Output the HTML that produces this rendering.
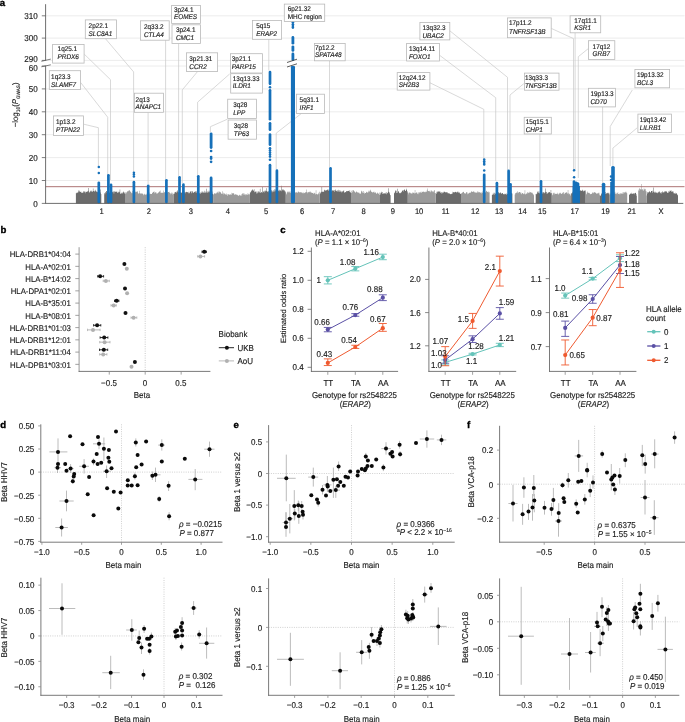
<!DOCTYPE html>
<html><head><meta charset="utf-8"><title>Figure</title>
<style>
html,body{margin:0;padding:0;background:#fff;width:685px;height:722px;overflow:hidden;}
svg{display:block;font-family:"Liberation Sans",sans-serif;text-rendering:geometricPrecision;will-change:transform;}
text{stroke:#1a1a1a;stroke-width:0.14px;}
</style></head><body>
<svg width="685" height="722" viewBox="0 0 685 722">
<rect width="685" height="722" fill="#fff"/>
<text x="-0.3" y="5.8" font-size="9.6" font-weight="bold" fill="#000" style="stroke:#000;stroke-width:0.35px">a</text>
<line x1="45.6" y1="180.5" x2="684.5" y2="180.5" stroke="#e7e7e7" stroke-width="0.8" />
<line x1="45.6" y1="157.6" x2="684.5" y2="157.6" stroke="#e7e7e7" stroke-width="0.8" />
<line x1="45.6" y1="134.7" x2="684.5" y2="134.7" stroke="#e7e7e7" stroke-width="0.8" />
<line x1="45.6" y1="111.8" x2="684.5" y2="111.8" stroke="#e7e7e7" stroke-width="0.8" />
<line x1="45.6" y1="88.9" x2="684.5" y2="88.9" stroke="#e7e7e7" stroke-width="0.8" />
<line x1="45.6" y1="66" x2="684.5" y2="66" stroke="#e7e7e7" stroke-width="0.8" />
<line x1="45.6" y1="60.4" x2="684.5" y2="60.4" stroke="#e7e7e7" stroke-width="0.8" />
<line x1="45.6" y1="38.1" x2="684.5" y2="38.1" stroke="#e7e7e7" stroke-width="0.8" />
<line x1="45.6" y1="15.8" x2="684.5" y2="15.8" stroke="#e7e7e7" stroke-width="0.8" />
<path d="M75.9 192.68h0.5V203.4h-0.5zM76.4 193.21h0.5V203.4h-0.5zM76.9 192.48h0.5V203.4h-0.5zM77.4 192.79h0.5V203.4h-0.5zM77.9 192.35h0.5V203.4h-0.5zM78.4 190.51h0.5V203.4h-0.5zM78.9 190.53h0.5V203.4h-0.5zM79.4 191.57h0.5V203.4h-0.5zM79.9 191.91h0.5V203.4h-0.5zM80.4 191.65h0.5V203.4h-0.5zM80.9 191.82h0.5V203.4h-0.5zM81.4 192.93h0.5V203.4h-0.5zM81.9 192.73h0.5V203.4h-0.5zM82.4 192.75h0.5V203.4h-0.5zM82.9 192.62h0.5V203.4h-0.5zM83.4 191.25h0.5V203.4h-0.5zM83.9 191.21h0.5V203.4h-0.5zM84.4 191.7h0.5V203.4h-0.5zM84.9 193.14h0.5V203.4h-0.5zM85.4 191.73h0.5V203.4h-0.5zM85.9 191.63h0.5V203.4h-0.5zM86.4 192h0.5V203.4h-0.5zM86.9 191.48h0.5V203.4h-0.5zM87.4 191.44h0.5V203.4h-0.5zM87.9 190.66h0.5V203.4h-0.5zM88.4 187.98h0.5V203.4h-0.5zM88.9 192.54h0.5V203.4h-0.5zM89.4 192.21h0.5V203.4h-0.5zM89.9 190.78h0.5V203.4h-0.5zM90.4 191.47h0.5V203.4h-0.5zM90.9 190.48h0.5V203.4h-0.5zM91.4 191.6h0.5V203.4h-0.5zM91.9 191.56h0.5V203.4h-0.5zM92.4 191.66h0.5V203.4h-0.5zM92.9 188.53h0.5V203.4h-0.5zM93.4 191.02h0.5V203.4h-0.5zM93.9 190.93h0.5V203.4h-0.5zM94.4 191.7h0.5V203.4h-0.5zM94.9 189.74h0.5V203.4h-0.5zM95.4 190.85h0.5V203.4h-0.5zM95.9 191.42h0.5V203.4h-0.5zM96.4 191.53h0.5V203.4h-0.5zM96.9 192.32h0.5V203.4h-0.5zM97.4 191.97h0.5V203.4h-0.5zM97.9 191.05h0.5V203.4h-0.5zM98.4 191.84h0.5V203.4h-0.5zM98.9 191.16h0.5V203.4h-0.5zM99.4 191.92h0.5V203.4h-0.5zM99.9 192.57h0.5V203.4h-0.5zM100.4 189.5h0.5V203.4h-0.5zM100.9 193.91h0.4V203.4h-0.4zM104.2 192.93h0.5V203.4h-0.5zM104.7 194.19h0.5V203.4h-0.5zM105.2 192.08h0.5V203.4h-0.5zM105.7 192.69h0.5V203.4h-0.5zM106.2 191.01h0.5V203.4h-0.5zM106.7 191.04h0.5V203.4h-0.5zM107.2 191.94h0.5V203.4h-0.5zM107.7 193.43h0.5V203.4h-0.5zM108.2 192.28h0.5V203.4h-0.5zM108.7 191.8h0.5V203.4h-0.5zM109.2 192.49h0.5V203.4h-0.5zM109.7 193.1h0.5V203.4h-0.5zM110.2 191.51h0.5V203.4h-0.5zM110.7 192.02h0.5V203.4h-0.5zM111.2 192.41h0.5V203.4h-0.5zM111.7 191.91h0.5V203.4h-0.5zM112.2 192.13h0.5V203.4h-0.5zM112.7 191.42h0.5V203.4h-0.5zM113.2 191.55h0.5V203.4h-0.5zM113.7 193.56h0.5V203.4h-0.5zM114.2 191.71h0.5V203.4h-0.5zM114.7 191.01h0.5V203.4h-0.5zM115.2 192.05h0.5V203.4h-0.5zM115.7 191.66h0.5V203.4h-0.5zM116.2 191.68h0.5V203.4h-0.5zM116.7 191.51h0.5V203.4h-0.5zM117.2 192.85h0.5V203.4h-0.5zM117.7 192.81h0.5V203.4h-0.5zM118.2 191.82h0.5V203.4h-0.5zM118.7 192.51h0.5V203.4h-0.5zM119.2 191.87h0.5V203.4h-0.5zM119.7 189.58h0.5V203.4h-0.5zM120.2 193.98h0.5V203.4h-0.5zM120.7 193.31h0.5V203.4h-0.5zM121.2 193.5h0.5V203.4h-0.5zM121.7 192.45h0.5V203.4h-0.5zM122.2 193.45h0.5V203.4h-0.5zM122.7 192.6h0.5V203.4h-0.5zM123.2 191.48h0.5V203.4h-0.5zM123.7 192.19h0.5V203.4h-0.5zM124.2 193.47h0.5V203.4h-0.5zM124.7 192.48h0.3V203.4h-0.3zM173.4 193.79h0.5V203.4h-0.5zM173.9 193.96h0.5V203.4h-0.5zM174.4 192.48h0.5V203.4h-0.5zM174.9 192.3h0.5V203.4h-0.5zM175.4 191.9h0.5V203.4h-0.5zM175.9 191.51h0.5V203.4h-0.5zM176.4 192.67h0.5V203.4h-0.5zM176.9 191.57h0.5V203.4h-0.5zM177.4 190.15h0.5V203.4h-0.5zM177.9 192.2h0.5V203.4h-0.5zM178.4 192.58h0.5V203.4h-0.5zM178.9 191.85h0.5V203.4h-0.5zM179.4 191.92h0.5V203.4h-0.5zM179.9 191.97h0.5V203.4h-0.5zM180.4 192.63h0.5V203.4h-0.5zM180.9 192.53h0.5V203.4h-0.5zM181.4 192.74h0.5V203.4h-0.5zM181.9 192.6h0.5V203.4h-0.5zM182.4 191.2h0.5V203.4h-0.5zM182.9 193.37h0.5V203.4h-0.5zM183.4 192.04h0.5V203.4h-0.5zM183.9 192.71h0.5V203.4h-0.5zM184.4 191.41h0.5V203.4h-0.5zM184.9 193.19h0.5V203.4h-0.5zM185.4 191.97h0.5V203.4h-0.5zM185.9 191.8h0.5V203.4h-0.5zM186.4 192.04h0.5V203.4h-0.5zM186.9 192.4h0.5V203.4h-0.5zM187.4 192.11h0.5V203.4h-0.5zM187.9 191.69h0.5V203.4h-0.5zM188.4 193.24h0.5V203.4h-0.5zM188.9 192.49h0.5V203.4h-0.5zM189.4 193.15h0.5V203.4h-0.5zM189.9 191.23h0.5V203.4h-0.5zM190.4 191.83h0.5V203.4h-0.5zM190.9 191.09h0.5V203.4h-0.5zM191.4 193.22h0.5V203.4h-0.5zM191.9 192.21h0.5V203.4h-0.5zM192.4 191h0.5V203.4h-0.5zM192.9 192.68h0.5V203.4h-0.5zM193.4 192.77h0.5V203.4h-0.5zM193.9 191.89h0.5V203.4h-0.5zM194.4 191.81h0.5V203.4h-0.5zM194.9 192.29h0.5V203.4h-0.5zM195.4 191h0.5V203.4h-0.5zM195.9 192.82h0.5V203.4h-0.5zM196.4 191.15h0.5V203.4h-0.5zM196.9 192.76h0.5V203.4h-0.5zM197.4 193.45h0.5V203.4h-0.5zM197.9 191.79h0.5V203.4h-0.5zM198.4 191.32h0.5V203.4h-0.5zM198.9 193.15h0.5V203.4h-0.5zM199.4 193.2h0.5V203.4h-0.5zM199.9 192.61h0.5V203.4h-0.5zM200.4 193.69h0.5V203.4h-0.5zM200.9 191.85h0.5V203.4h-0.5zM201.4 192.89h0.5V203.4h-0.5zM201.9 191.28h0.5V203.4h-0.5zM202.4 192.45h0.5V203.4h-0.5zM202.9 192.59h0.5V203.4h-0.5zM203.4 192.53h0.5V203.4h-0.5zM203.9 190.71h0.5V203.4h-0.5zM204.4 192.66h0.5V203.4h-0.5zM204.9 191.5h0.5V203.4h-0.5zM205.4 192.64h0.5V203.4h-0.5zM205.9 192.53h0.5V203.4h-0.5zM206.4 188.78h0.5V203.4h-0.5zM206.9 191.52h0.5V203.4h-0.5zM207.4 192.83h0.5V203.4h-0.5zM207.9 190.87h0.5V203.4h-0.5zM208.4 192.21h0.5V203.4h-0.5zM208.9 192.28h0.5V203.4h-0.5zM209.4 190.73h0.5V203.4h-0.5zM209.9 191.67h0.5V203.4h-0.5zM210.4 190.9h0.5V203.4h-0.5zM210.9 191.28h0.5V203.4h-0.5zM211.4 193.21h0.5V203.4h-0.5zM211.9 191.42h0.5V203.4h-0.5zM212.4 193.76h0.5V203.4h-0.5zM212.9 193.69h0.2V203.4h-0.2zM249.9 192.5h0.5V203.4h-0.5zM250.4 192.24h0.5V203.4h-0.5zM250.9 191.31h0.5V203.4h-0.5zM251.4 190.44h0.5V203.4h-0.5zM251.9 189.95h0.5V203.4h-0.5zM252.4 189.24h0.5V203.4h-0.5zM252.9 190.89h0.5V203.4h-0.5zM253.4 190.29h0.5V203.4h-0.5zM253.9 189.22h0.5V203.4h-0.5zM254.4 192.31h0.5V203.4h-0.5zM254.9 191.57h0.5V203.4h-0.5zM255.4 191.75h0.5V203.4h-0.5zM255.9 191.42h0.5V203.4h-0.5zM256.4 193.45h0.5V203.4h-0.5zM256.9 191.59h0.5V203.4h-0.5zM257.4 193.36h0.5V203.4h-0.5zM257.9 192.54h0.5V203.4h-0.5zM258.4 191.33h0.5V203.4h-0.5zM258.9 191.59h0.5V203.4h-0.5zM259.4 192.52h0.5V203.4h-0.5zM259.9 188.79h0.5V203.4h-0.5zM260.4 192.93h0.5V203.4h-0.5zM260.9 192.01h0.5V203.4h-0.5zM261.4 192.33h0.5V203.4h-0.5zM261.9 192.76h0.5V203.4h-0.5zM262.4 186.91h0.5V203.4h-0.5zM262.9 191.3h0.5V203.4h-0.5zM263.4 191.82h0.5V203.4h-0.5zM263.9 192.46h0.5V203.4h-0.5zM264.4 190.83h0.5V203.4h-0.5zM264.9 191.48h0.5V203.4h-0.5zM265.4 190.46h0.5V203.4h-0.5zM265.9 190.99h0.5V203.4h-0.5zM266.4 188.22h0.5V203.4h-0.5zM266.9 191.28h0.5V203.4h-0.5zM267.4 191.86h0.5V203.4h-0.5zM267.9 192.18h0.5V203.4h-0.5zM268.4 191.08h0.5V203.4h-0.5zM268.9 191.03h0.5V203.4h-0.5zM269.4 190.03h0.5V203.4h-0.5zM269.9 190.39h0.5V203.4h-0.5zM270.4 190.59h0.5V203.4h-0.5zM270.9 191.16h0.5V203.4h-0.5zM271.4 189.95h0.5V203.4h-0.5zM271.9 192.17h0.5V203.4h-0.5zM272.4 190.71h0.5V203.4h-0.5zM272.9 191.63h0.5V203.4h-0.5zM273.4 190.23h0.5V203.4h-0.5zM273.9 191.38h0.5V203.4h-0.5zM274.4 189.16h0.5V203.4h-0.5zM274.9 191.2h0.5V203.4h-0.5zM275.4 189.43h0.5V203.4h-0.5zM275.9 189.5h0.5V203.4h-0.5zM276.4 191.04h0.5V203.4h-0.5zM276.9 190.91h0.5V203.4h-0.5zM277.4 191.53h0.5V203.4h-0.5zM277.9 191.08h0.5V203.4h-0.5zM278.4 190.33h0.5V203.4h-0.5zM278.9 191.2h0.5V203.4h-0.5zM279.4 189.76h0.5V203.4h-0.5zM279.9 190.06h0.5V203.4h-0.5zM280.4 190.64h0.5V203.4h-0.5zM280.9 191.2h0.5V203.4h-0.5zM281.4 185.77h0.5V203.4h-0.5zM281.9 189.36h0.5V203.4h-0.5zM282.4 190.33h0.5V203.4h-0.5zM282.9 189.37h0.5V203.4h-0.5zM283.4 190.18h0.5V203.4h-0.5zM283.9 190.71h0.5V203.4h-0.5zM284.4 190.29h0.5V203.4h-0.5zM284.9 192.25h0.5V203.4h-0.5zM285.4 191.26h0.4V203.4h-0.4zM319.6 191.82h0.5V203.4h-0.5zM320.1 193.4h0.5V203.4h-0.5zM320.6 192.4h0.5V203.4h-0.5zM321.1 191.87h0.5V203.4h-0.5zM321.6 186.9h0.5V203.4h-0.5zM322.1 191.69h0.5V203.4h-0.5zM322.6 191.72h0.5V203.4h-0.5zM323.1 191.87h0.5V203.4h-0.5zM323.6 191.85h0.5V203.4h-0.5zM324.1 189.83h0.5V203.4h-0.5zM324.6 190.24h0.5V203.4h-0.5zM325.1 190.87h0.5V203.4h-0.5zM325.6 190.18h0.5V203.4h-0.5zM326.1 190.1h0.5V203.4h-0.5zM326.6 190.43h0.5V203.4h-0.5zM327.1 189.87h0.5V203.4h-0.5zM327.6 189.57h0.5V203.4h-0.5zM328.1 190.77h0.5V203.4h-0.5zM328.6 189.55h0.5V203.4h-0.5zM329.1 190.48h0.5V203.4h-0.5zM329.6 189.79h0.5V203.4h-0.5zM330.1 190.13h0.5V203.4h-0.5zM330.6 191.51h0.5V203.4h-0.5zM331.1 191.75h0.5V203.4h-0.5zM331.6 190.69h0.5V203.4h-0.5zM332.1 190.39h0.5V203.4h-0.5zM332.6 190.13h0.5V203.4h-0.5zM333.1 190.98h0.5V203.4h-0.5zM333.6 189.93h0.5V203.4h-0.5zM334.1 191.79h0.5V203.4h-0.5zM334.6 190.12h0.5V203.4h-0.5zM335.1 189.57h0.5V203.4h-0.5zM335.6 190.87h0.5V203.4h-0.5zM336.1 190.83h0.5V203.4h-0.5zM336.6 191.2h0.5V203.4h-0.5zM337.1 191.58h0.5V203.4h-0.5zM337.6 189.88h0.5V203.4h-0.5zM338.1 191.5h0.5V203.4h-0.5zM338.6 189.84h0.5V203.4h-0.5zM339.1 191.77h0.5V203.4h-0.5zM339.6 190.13h0.5V203.4h-0.5zM340.1 191.86h0.5V203.4h-0.5zM340.6 190.75h0.5V203.4h-0.5zM341.1 191.55h0.5V203.4h-0.5zM341.6 192.39h0.5V203.4h-0.5zM342.1 191.02h0.5V203.4h-0.5zM342.6 192.08h0.5V203.4h-0.5zM343.1 191.11h0.5V203.4h-0.5zM343.6 190.34h0.5V203.4h-0.5zM344.1 192.79h0.5V203.4h-0.5zM344.6 192.33h0.5V203.4h-0.5zM345.1 191.92h0.5V203.4h-0.5zM345.6 192.16h0.5V203.4h-0.5zM346.1 191.32h0.5V203.4h-0.5zM346.6 190.95h0.5V203.4h-0.5zM347.1 191.14h0.5V203.4h-0.5zM347.6 190.94h0.5V203.4h-0.5zM348.1 191.1h0.5V203.4h-0.5zM348.6 190.72h0.5V203.4h-0.5zM349.1 191.7h0.5V203.4h-0.5zM349.6 190.2h0.5V203.4h-0.5zM350.1 192.62h0.5V203.4h-0.5zM350.6 192.23h0.4V203.4h-0.4zM380 194.45h0.5V203.4h-0.5zM380.5 192.77h0.5V203.4h-0.5zM381 191.66h0.5V203.4h-0.5zM381.5 192.67h0.5V203.4h-0.5zM382 192.09h0.5V203.4h-0.5zM382.5 194.09h0.5V203.4h-0.5zM383 193.65h0.5V203.4h-0.5zM383.5 193.14h0.5V203.4h-0.5zM384 193.56h0.5V203.4h-0.5zM384.5 193.29h0.5V203.4h-0.5zM385 192.84h0.5V203.4h-0.5zM385.5 193.86h0.5V203.4h-0.5zM386 192.36h0.5V203.4h-0.5zM386.5 194.16h0.5V203.4h-0.5zM387 192.86h0.5V203.4h-0.5zM387.5 193.3h0.5V203.4h-0.5zM388 188.24h0.5V203.4h-0.5zM388.5 191.8h0.5V203.4h-0.5zM389 192.18h0.5V203.4h-0.5zM389.5 193.45h0.5V203.4h-0.5zM390 194.97h0.5V203.4h-0.5zM390.5 195.72h0.1V203.4h-0.1zM394 193.14h0.5V203.4h-0.5zM394.5 192.4h0.5V203.4h-0.5zM395 190.26h0.5V203.4h-0.5zM395.5 191.16h0.5V203.4h-0.5zM396 190.78h0.5V203.4h-0.5zM396.5 192.9h0.5V203.4h-0.5zM397 192.73h0.5V203.4h-0.5zM397.5 188.73h0.5V203.4h-0.5zM398 191.48h0.5V203.4h-0.5zM398.5 191.19h0.5V203.4h-0.5zM399 193.2h0.5V203.4h-0.5zM399.5 192.86h0.5V203.4h-0.5zM400 193.24h0.5V203.4h-0.5zM400.5 192.85h0.5V203.4h-0.5zM401 192.56h0.5V203.4h-0.5zM401.5 191.67h0.5V203.4h-0.5zM402 191.08h0.5V203.4h-0.5zM402.5 190.16h0.5V203.4h-0.5zM403 191.39h0.5V203.4h-0.5zM403.5 189.98h0.5V203.4h-0.5zM404 189.64h0.5V203.4h-0.5zM404.5 189.47h0.5V203.4h-0.5zM405 190.89h0.5V203.4h-0.5zM405.5 190.86h0.5V203.4h-0.5zM406 188.82h0.5V203.4h-0.5zM406.5 190.05h0.5V203.4h-0.5zM407 191.28h0.5V203.4h-0.5zM407.5 192.56h0.3V203.4h-0.3zM435.6 193.35h0.5V203.4h-0.5zM436.1 193.87h0.5V203.4h-0.5zM436.6 191.67h0.5V203.4h-0.5zM437.1 192.2h0.5V203.4h-0.5zM437.6 191.37h0.5V203.4h-0.5zM438.1 191.62h0.5V203.4h-0.5zM438.6 191.53h0.5V203.4h-0.5zM439.1 191.71h0.5V203.4h-0.5zM439.6 191.36h0.5V203.4h-0.5zM440.1 192.98h0.5V203.4h-0.5zM440.6 191.73h0.5V203.4h-0.5zM441.1 193.41h0.5V203.4h-0.5zM441.6 192.12h0.5V203.4h-0.5zM442.1 193.35h0.5V203.4h-0.5zM442.6 192.26h0.5V203.4h-0.5zM443.1 192.69h0.5V203.4h-0.5zM443.6 191.87h0.5V203.4h-0.5zM444.1 191.85h0.5V203.4h-0.5zM444.6 191.67h0.5V203.4h-0.5zM445.1 191.89h0.5V203.4h-0.5zM445.6 192.67h0.5V203.4h-0.5zM446.1 191.92h0.5V203.4h-0.5zM446.6 192.48h0.5V203.4h-0.5zM447.1 192.31h0.5V203.4h-0.5zM447.6 193.27h0.5V203.4h-0.5zM448.1 193.5h0.5V203.4h-0.5zM448.6 192.9h0.5V203.4h-0.5zM449.1 193.18h0.5V203.4h-0.5zM449.6 194.12h0.5V203.4h-0.5zM450.1 193.97h0.5V203.4h-0.5zM450.6 194.14h0.5V203.4h-0.5zM451.1 193.69h0.5V203.4h-0.5zM451.6 193.94h0.5V203.4h-0.5zM452.1 193.49h0.5V203.4h-0.5zM452.6 191.72h0.5V203.4h-0.5zM453.1 192.02h0.5V203.4h-0.5zM453.6 192.6h0.5V203.4h-0.5zM454.1 192.55h0.5V203.4h-0.5zM454.6 191.94h0.5V203.4h-0.5zM455.1 191.76h0.5V203.4h-0.5zM455.6 191.98h0.5V203.4h-0.5zM456.1 192.59h0.5V203.4h-0.5zM456.6 192.25h0.5V203.4h-0.5zM457.1 191.57h0.5V203.4h-0.5zM457.6 192.32h0.5V203.4h-0.5zM458.1 191.69h0.5V203.4h-0.5zM458.6 193.04h0.5V203.4h-0.5zM459.1 192.36h0.5V203.4h-0.5zM459.6 193.17h0.5V203.4h-0.5zM460.1 194.05h0.5V203.4h-0.5zM460.6 193.7h0.4V203.4h-0.4zM491.9 195h0.5V203.4h-0.5zM492.4 194.61h0.5V203.4h-0.5zM492.9 192.68h0.5V203.4h-0.5zM493.4 194.2h0.5V203.4h-0.5zM493.9 194.83h0.5V203.4h-0.5zM494.4 192.82h0.5V203.4h-0.5zM494.9 193.27h0.5V203.4h-0.5zM495.4 193.99h0.5V203.4h-0.5zM495.9 192.79h0.5V203.4h-0.5zM496.4 194.19h0.5V203.4h-0.5zM496.9 193.99h0.5V203.4h-0.5zM497.4 194.42h0.5V203.4h-0.5zM497.9 192.69h0.5V203.4h-0.5zM498.4 192.08h0.5V203.4h-0.5zM498.9 193.62h0.5V203.4h-0.5zM499.4 193.03h0.5V203.4h-0.5zM499.9 192.2h0.5V203.4h-0.5zM500.4 192.71h0.5V203.4h-0.5zM500.9 193.53h0.5V203.4h-0.5zM501.4 193.79h0.5V203.4h-0.5zM501.9 192.9h0.5V203.4h-0.5zM502.4 192.89h0.5V203.4h-0.5zM502.9 194.07h0.5V203.4h-0.5zM503.4 194.14h0.5V203.4h-0.5zM503.9 194.4h0.5V203.4h-0.5zM504.4 193.81h0.5V203.4h-0.5zM504.9 193.88h0.5V203.4h-0.5zM505.4 193.79h0.5V203.4h-0.5zM505.9 194.9h0.5V203.4h-0.5zM506.4 193.5h0.5V203.4h-0.5zM506.9 194.11h0.5V203.4h-0.5zM507.4 193.9h0.5V203.4h-0.5zM507.9 193.85h0.5V203.4h-0.5zM508.4 192.53h0.5V203.4h-0.5zM508.9 193.72h0.5V203.4h-0.5zM509.4 193.94h0.5V203.4h-0.5zM509.9 193.64h0.5V203.4h-0.5zM510.4 192.49h0.5V203.4h-0.5zM510.9 192.77h0.5V203.4h-0.5zM511.4 193.21h0.5V203.4h-0.5zM511.9 193.53h0.5V203.4h-0.5zM535.7 194h0.5V203.4h-0.5zM536.2 194.34h0.5V203.4h-0.5zM536.7 193.41h0.5V203.4h-0.5zM537.2 191.47h0.5V203.4h-0.5zM537.7 192.35h0.5V203.4h-0.5zM538.2 192.69h0.5V203.4h-0.5zM538.7 191.1h0.5V203.4h-0.5zM539.2 192.68h0.5V203.4h-0.5zM539.7 193.8h0.5V203.4h-0.5zM540.2 192.49h0.5V203.4h-0.5zM540.7 191.6h0.5V203.4h-0.5zM541.2 192.34h0.5V203.4h-0.5zM541.7 193.88h0.5V203.4h-0.5zM542.2 192.3h0.5V203.4h-0.5zM542.7 193.22h0.5V203.4h-0.5zM543.2 192.07h0.5V203.4h-0.5zM543.7 192.54h0.5V203.4h-0.5zM544.2 193.25h0.5V203.4h-0.5zM544.7 192.5h0.5V203.4h-0.5zM545.2 188.44h0.5V203.4h-0.5zM545.7 191.67h0.5V203.4h-0.5zM546.2 192.09h0.5V203.4h-0.5zM546.7 193.68h0.5V203.4h-0.5zM547.2 193.53h0.5V203.4h-0.5zM547.7 192.68h0.5V203.4h-0.5zM548.2 192.38h0.5V203.4h-0.5zM548.7 192.37h0.5V203.4h-0.5zM549.2 192.1h0.5V203.4h-0.5zM549.7 192.28h0.5V203.4h-0.5zM550.2 193.34h0.5V203.4h-0.5zM550.7 190.04h0.5V203.4h-0.5zM551.2 193.09h0.5V203.4h-0.5zM551.7 193.73h0.1V203.4h-0.1zM571.1 193.05h0.5V203.4h-0.5zM571.6 193.74h0.5V203.4h-0.5zM572.1 191.68h0.5V203.4h-0.5zM572.6 192.65h0.5V203.4h-0.5zM573.1 191.41h0.5V203.4h-0.5zM573.6 190.34h0.5V203.4h-0.5zM574.1 191.34h0.5V203.4h-0.5zM574.6 190.27h0.5V203.4h-0.5zM575.1 191.58h0.5V203.4h-0.5zM575.6 191.93h0.5V203.4h-0.5zM576.1 191.03h0.5V203.4h-0.5zM576.6 191.24h0.5V203.4h-0.5zM577.1 190.43h0.5V203.4h-0.5zM577.6 191.69h0.5V203.4h-0.5zM578.1 190.69h0.5V203.4h-0.5zM578.6 186.36h0.5V203.4h-0.5zM579.1 190.86h0.5V203.4h-0.5zM579.6 190.98h0.5V203.4h-0.5zM580.1 190.49h0.5V203.4h-0.5zM580.6 190.37h0.5V203.4h-0.5zM581.1 190.67h0.5V203.4h-0.5zM581.6 190.9h0.5V203.4h-0.5zM582.1 189.78h0.5V203.4h-0.5zM582.6 190.41h0.5V203.4h-0.5zM583.1 191.53h0.5V203.4h-0.5zM583.6 190.77h0.5V203.4h-0.5zM584.1 191.08h0.5V203.4h-0.5zM584.6 190.36h0.5V203.4h-0.5zM585.1 190.57h0.5V203.4h-0.5zM585.6 192.17h0.1V203.4h-0.1zM600 195.44h0.5V203.4h-0.5zM600.5 195.79h0.5V203.4h-0.5zM601 194.37h0.5V203.4h-0.5zM601.5 193.23h0.5V203.4h-0.5zM602 193.14h0.5V203.4h-0.5zM602.5 191.8h0.5V203.4h-0.5zM603 193.15h0.5V203.4h-0.5zM603.5 192.28h0.5V203.4h-0.5zM604 193.88h0.5V203.4h-0.5zM604.5 192.97h0.5V203.4h-0.5zM605 194.06h0.5V203.4h-0.5zM605.5 192.12h0.5V203.4h-0.5zM606 193.59h0.5V203.4h-0.5zM606.5 193.17h0.5V203.4h-0.5zM607 192.73h0.5V203.4h-0.5zM607.5 193.2h0.5V203.4h-0.5zM608 193.44h0.5V203.4h-0.5zM608.5 192.67h0.5V203.4h-0.5zM609 194.49h0.5V203.4h-0.5zM609.5 193.79h0.2V203.4h-0.2zM629 194.28h0.5V203.4h-0.5zM629.5 194.89h0.5V203.4h-0.5zM630 193.15h0.5V203.4h-0.5zM630.5 193.89h0.5V203.4h-0.5zM631 192.65h0.5V203.4h-0.5zM631.5 194.06h0.5V203.4h-0.5zM632 193.7h0.5V203.4h-0.5zM632.5 193.65h0.5V203.4h-0.5zM633 193.1h0.5V203.4h-0.5zM633.5 193.9h0.5V203.4h-0.5zM634 194.31h0.5V203.4h-0.5zM634.5 193.12h0.5V203.4h-0.5zM635 192.67h0.5V203.4h-0.5zM635.5 193.1h0.5V203.4h-0.5zM636 194.34h0.5V203.4h-0.5zM636.5 196.02h0.3V203.4h-0.3zM646.5 195.43h0.5V203.4h-0.5zM647 193.43h0.5V203.4h-0.5zM647.5 191.96h0.5V203.4h-0.5zM648 192.03h0.5V203.4h-0.5zM648.5 192.78h0.5V203.4h-0.5zM649 191.47h0.5V203.4h-0.5zM649.5 191.38h0.5V203.4h-0.5zM650 192.26h0.5V203.4h-0.5zM650.5 192.38h0.5V203.4h-0.5zM651 191.12h0.5V203.4h-0.5zM651.5 191.12h0.5V203.4h-0.5zM652 190.69h0.5V203.4h-0.5zM652.5 192.63h0.5V203.4h-0.5zM653 191.85h0.5V203.4h-0.5zM653.5 187.49h0.5V203.4h-0.5zM654 192.66h0.5V203.4h-0.5zM654.5 191.8h0.5V203.4h-0.5zM655 192.85h0.5V203.4h-0.5zM655.5 191.72h0.5V203.4h-0.5zM656 192.93h0.5V203.4h-0.5zM656.5 192.24h0.5V203.4h-0.5zM657 192.62h0.5V203.4h-0.5zM657.5 193.36h0.5V203.4h-0.5zM658 192.57h0.5V203.4h-0.5zM658.5 191.73h0.5V203.4h-0.5zM659 192.14h0.5V203.4h-0.5zM659.5 191.19h0.5V203.4h-0.5zM660 192.62h0.5V203.4h-0.5zM660.5 193.17h0.5V203.4h-0.5zM661 191.96h0.5V203.4h-0.5zM661.5 193.62h0.5V203.4h-0.5zM662 192.44h0.5V203.4h-0.5zM662.5 191.28h0.5V203.4h-0.5zM663 192.33h0.5V203.4h-0.5zM663.5 192.46h0.5V203.4h-0.5zM664 192.36h0.5V203.4h-0.5zM664.5 191.15h0.5V203.4h-0.5zM665 191.22h0.5V203.4h-0.5zM665.5 191.55h0.5V203.4h-0.5zM666 191.54h0.5V203.4h-0.5zM666.5 191.38h0.5V203.4h-0.5zM667 192.89h0.5V203.4h-0.5zM667.5 192.55h0.5V203.4h-0.5zM668 192.75h0.5V203.4h-0.5zM668.5 191.35h0.5V203.4h-0.5zM669 191.9h0.5V203.4h-0.5zM669.5 190.65h0.5V203.4h-0.5zM670 191.05h0.5V203.4h-0.5zM670.5 190.61h0.5V203.4h-0.5zM671 192.08h0.5V203.4h-0.5zM671.5 190.54h0.5V203.4h-0.5zM672 191.58h0.5V203.4h-0.5zM672.5 191.55h0.5V203.4h-0.5zM673 193.22h0.5V203.4h-0.5zM673.5 191.52h0.5V203.4h-0.5zM674 193.24h0.5V203.4h-0.5zM674.5 193.56h0.5V203.4h-0.5zM675 194.1h0.5V203.4h-0.5zM675.5 192.77h0.5V203.4h-0.5zM676 193.19h0.5V203.4h-0.5zM676.5 193.4h0.5V203.4h-0.5zM677 194.59h0.5V203.4h-0.5zM677.5 195.15h0.5V203.4h-0.5z" fill="#6b6b6b"/>
<path d="M125 193.79h0.5V203.4h-0.5zM125.5 192.19h0.5V203.4h-0.5zM126 192.07h0.5V203.4h-0.5zM126.5 193.13h0.5V203.4h-0.5zM127 191.17h0.5V203.4h-0.5zM127.5 191.47h0.5V203.4h-0.5zM128 190.5h0.5V203.4h-0.5zM128.5 191.27h0.5V203.4h-0.5zM129 189.95h0.5V203.4h-0.5zM129.5 190.77h0.5V203.4h-0.5zM130 191.56h0.5V203.4h-0.5zM130.5 191.63h0.5V203.4h-0.5zM131 192.62h0.5V203.4h-0.5zM131.5 193.18h0.5V203.4h-0.5zM132 191.04h0.5V203.4h-0.5zM132.5 193.23h0.5V203.4h-0.5zM133 193.3h0.5V203.4h-0.5zM133.5 191.48h0.5V203.4h-0.5zM134 191.66h0.5V203.4h-0.5zM134.5 193.18h0.5V203.4h-0.5zM135 192.32h0.5V203.4h-0.5zM135.5 191.47h0.5V203.4h-0.5zM136 191.48h0.5V203.4h-0.5zM136.5 191.97h0.5V203.4h-0.5zM137 190.98h0.5V203.4h-0.5zM137.5 192.22h0.5V203.4h-0.5zM138 193.39h0.5V203.4h-0.5zM138.5 193.39h0.5V203.4h-0.5zM139 193.16h0.5V203.4h-0.5zM139.5 190.86h0.5V203.4h-0.5zM140 193.06h0.5V203.4h-0.5zM140.5 193.88h0.5V203.4h-0.5zM141 193.53h0.5V203.4h-0.5zM141.5 193.45h0.5V203.4h-0.5zM142 193.69h0.5V203.4h-0.5zM142.5 193.51h0.5V203.4h-0.5zM143 194.2h0.5V203.4h-0.5zM143.5 195.17h0.5V203.4h-0.5zM144 194.6h0.5V203.4h-0.5zM144.5 193.77h0.5V203.4h-0.5zM145 194.68h0.5V203.4h-0.5zM145.5 194.47h0.5V203.4h-0.5zM146 194.87h0.5V203.4h-0.5zM146.5 193.75h0.5V203.4h-0.5zM147 193.73h0.5V203.4h-0.5zM147.5 194.06h0.5V203.4h-0.5zM148 194.4h0.5V203.4h-0.5zM148.5 194.73h0.5V203.4h-0.5zM149 192.56h0.5V203.4h-0.5zM149.5 194.32h0.5V203.4h-0.5zM150 193.86h0.5V203.4h-0.5zM150.5 193.98h0.5V203.4h-0.5zM151 193.95h0.5V203.4h-0.5zM151.5 194.01h0.5V203.4h-0.5zM152 192.4h0.5V203.4h-0.5zM152.5 193.1h0.5V203.4h-0.5zM153 191.68h0.5V203.4h-0.5zM153.5 191.89h0.5V203.4h-0.5zM154 191.51h0.5V203.4h-0.5zM154.5 193.18h0.5V203.4h-0.5zM155 192.14h0.5V203.4h-0.5zM155.5 192.45h0.5V203.4h-0.5zM156 193.75h0.5V203.4h-0.5zM156.5 192.48h0.5V203.4h-0.5zM157 193.23h0.5V203.4h-0.5zM157.5 193.48h0.5V203.4h-0.5zM158 192.99h0.5V203.4h-0.5zM158.5 191.94h0.5V203.4h-0.5zM159 191.61h0.5V203.4h-0.5zM159.5 191.61h0.5V203.4h-0.5zM160 192.8h0.5V203.4h-0.5zM160.5 190.38h0.5V203.4h-0.5zM161 192.41h0.5V203.4h-0.5zM161.5 193.02h0.5V203.4h-0.5zM162 192.71h0.5V203.4h-0.5zM162.5 192.87h0.5V203.4h-0.5zM163 192.83h0.5V203.4h-0.5zM163.5 190.59h0.5V203.4h-0.5zM164 192.44h0.5V203.4h-0.5zM164.5 192h0.5V203.4h-0.5zM165 191.24h0.5V203.4h-0.5zM165.5 191.86h0.5V203.4h-0.5zM166 192.27h0.5V203.4h-0.5zM166.5 189.57h0.5V203.4h-0.5zM167 192.28h0.5V203.4h-0.5zM167.5 192.44h0.5V203.4h-0.5zM168 192.08h0.5V203.4h-0.5zM168.5 192.11h0.5V203.4h-0.5zM169 193.02h0.5V203.4h-0.5zM169.5 191.67h0.5V203.4h-0.5zM170 193h0.5V203.4h-0.5zM170.5 194.13h0.5V203.4h-0.5zM171 192.61h0.5V203.4h-0.5zM171.5 193.69h0.5V203.4h-0.5zM172 192.87h0.5V203.4h-0.5zM172.5 194.56h0.5V203.4h-0.5zM173 194.26h0.4V203.4h-0.4zM213.1 194.75h0.5V203.4h-0.5zM213.6 193.88h0.5V203.4h-0.5zM214.1 193.62h0.5V203.4h-0.5zM214.6 192.91h0.5V203.4h-0.5zM215.1 193.42h0.5V203.4h-0.5zM215.6 193.78h0.5V203.4h-0.5zM216.1 193.33h0.5V203.4h-0.5zM216.6 192.46h0.5V203.4h-0.5zM217.1 191.87h0.5V203.4h-0.5zM217.6 192.66h0.5V203.4h-0.5zM218.1 191.42h0.5V203.4h-0.5zM218.6 193.29h0.5V203.4h-0.5zM219.1 191.87h0.5V203.4h-0.5zM219.6 191.45h0.5V203.4h-0.5zM220.1 191.9h0.5V203.4h-0.5zM220.6 192.69h0.5V203.4h-0.5zM221.1 193.44h0.5V203.4h-0.5zM221.6 193.96h0.5V203.4h-0.5zM222.1 191.16h0.5V203.4h-0.5zM222.6 193.73h0.5V203.4h-0.5zM223.1 192.77h0.5V203.4h-0.5zM223.6 194.62h0.5V203.4h-0.5zM224.1 193.42h0.5V203.4h-0.5zM224.6 193.61h0.5V203.4h-0.5zM225.1 194.58h0.5V203.4h-0.5zM225.6 194.18h0.5V203.4h-0.5zM226.1 193.6h0.5V203.4h-0.5zM226.6 195.05h0.5V203.4h-0.5zM227.1 195.68h0.5V203.4h-0.5zM227.6 194.01h0.5V203.4h-0.5zM228.1 194.29h0.5V203.4h-0.5zM228.6 194.54h0.5V203.4h-0.5zM229.1 195.01h0.5V203.4h-0.5zM229.6 194.23h0.5V203.4h-0.5zM230.1 194.36h0.5V203.4h-0.5zM230.6 194.75h0.5V203.4h-0.5zM231.1 194.81h0.5V203.4h-0.5zM231.6 192.71h0.5V203.4h-0.5zM232.1 193.23h0.5V203.4h-0.5zM232.6 193.4h0.5V203.4h-0.5zM233.1 193.37h0.5V203.4h-0.5zM233.6 193.3h0.5V203.4h-0.5zM234.1 194.87h0.5V203.4h-0.5zM234.6 194.45h0.5V203.4h-0.5zM235.1 193.95h0.5V203.4h-0.5zM235.6 194.69h0.5V203.4h-0.5zM236.1 194.46h0.5V203.4h-0.5zM236.6 194.86h0.5V203.4h-0.5zM237.1 195.24h0.5V203.4h-0.5zM237.6 194.73h0.5V203.4h-0.5zM238.1 196.02h0.5V203.4h-0.5zM238.6 195.51h0.5V203.4h-0.5zM239.1 194.68h0.5V203.4h-0.5zM239.6 195.36h0.5V203.4h-0.5zM240.1 195.4h0.5V203.4h-0.5zM240.6 195.42h0.5V203.4h-0.5zM241.1 194.35h0.5V203.4h-0.5zM241.6 195.66h0.5V203.4h-0.5zM242.1 193.86h0.5V203.4h-0.5zM242.6 193.33h0.5V203.4h-0.5zM243.1 194.61h0.5V203.4h-0.5zM243.6 193h0.5V203.4h-0.5zM244.1 193.64h0.5V203.4h-0.5zM244.6 194.93h0.5V203.4h-0.5zM245.1 194.07h0.5V203.4h-0.5zM245.6 195.23h0.5V203.4h-0.5zM246.1 194.61h0.5V203.4h-0.5zM246.6 194.33h0.5V203.4h-0.5zM247.1 194.93h0.5V203.4h-0.5zM247.6 193.18h0.5V203.4h-0.5zM248.1 194.46h0.5V203.4h-0.5zM248.6 193.78h0.5V203.4h-0.5zM249.1 194.62h0.5V203.4h-0.5zM249.6 194.15h0.3V203.4h-0.3zM285.8 194.81h0.5V203.4h-0.5zM286.3 193.8h0.5V203.4h-0.5zM286.8 192.61h0.5V203.4h-0.5zM287.3 191.54h0.5V203.4h-0.5zM287.8 192.26h0.5V203.4h-0.5zM288.3 191.62h0.5V203.4h-0.5zM288.8 192.79h0.5V203.4h-0.5zM289.3 191.7h0.5V203.4h-0.5zM289.8 191.15h0.5V203.4h-0.5zM290.3 192.7h0.5V203.4h-0.5zM290.8 192.68h0.5V203.4h-0.5zM291.3 192.61h0.5V203.4h-0.5zM291.8 192.98h0.5V203.4h-0.5zM292.3 191.68h0.5V203.4h-0.5zM292.8 192.54h0.5V203.4h-0.5zM293.3 190.67h0.5V203.4h-0.5zM293.8 192.03h0.5V203.4h-0.5zM294.3 192.46h0.5V203.4h-0.5zM294.8 192.58h0.5V203.4h-0.5zM295.3 192.19h0.5V203.4h-0.5zM295.8 192.99h0.5V203.4h-0.5zM296.3 191.88h0.5V203.4h-0.5zM296.8 192.31h0.5V203.4h-0.5zM297.3 193.12h0.5V203.4h-0.5zM297.8 191.63h0.5V203.4h-0.5zM298.3 191.49h0.5V203.4h-0.5zM298.8 192.34h0.5V203.4h-0.5zM299.3 192.56h0.5V203.4h-0.5zM299.8 191.93h0.5V203.4h-0.5zM300.3 192.39h0.5V203.4h-0.5zM300.8 192.05h0.5V203.4h-0.5zM301.3 192.43h0.5V203.4h-0.5zM301.8 192.89h0.5V203.4h-0.5zM302.3 193.24h0.5V203.4h-0.5zM302.8 192.12h0.5V203.4h-0.5zM303.3 193.27h0.5V203.4h-0.5zM303.8 193.16h0.5V203.4h-0.5zM304.3 192.8h0.5V203.4h-0.5zM304.8 192.99h0.5V203.4h-0.5zM305.3 191.98h0.5V203.4h-0.5zM305.8 192.34h0.5V203.4h-0.5zM306.3 189.53h0.5V203.4h-0.5zM306.8 192h0.5V203.4h-0.5zM307.3 193.23h0.5V203.4h-0.5zM307.8 192.17h0.5V203.4h-0.5zM308.3 192.17h0.5V203.4h-0.5zM308.8 191.79h0.5V203.4h-0.5zM309.3 192.31h0.5V203.4h-0.5zM309.8 191.59h0.5V203.4h-0.5zM310.3 191.76h0.5V203.4h-0.5zM310.8 192.89h0.5V203.4h-0.5zM311.3 192.17h0.5V203.4h-0.5zM311.8 192.99h0.5V203.4h-0.5zM312.3 192.92h0.5V203.4h-0.5zM312.8 192.82h0.5V203.4h-0.5zM313.3 193.92h0.5V203.4h-0.5zM313.8 193.28h0.5V203.4h-0.5zM314.3 192.79h0.5V203.4h-0.5zM314.8 193.41h0.5V203.4h-0.5zM315.3 194.49h0.5V203.4h-0.5zM315.8 190.13h0.5V203.4h-0.5zM316.3 193.91h0.5V203.4h-0.5zM316.8 194.28h0.5V203.4h-0.5zM317.3 194.57h0.5V203.4h-0.5zM317.8 194.21h0.5V203.4h-0.5zM318.3 192.81h0.5V203.4h-0.5zM318.8 193.75h0.5V203.4h-0.5zM319.3 194.25h0.3V203.4h-0.3zM351 190.84h0.5V203.4h-0.5zM351.5 192.88h0.5V203.4h-0.5zM352 192.27h0.5V203.4h-0.5zM352.5 190.3h0.5V203.4h-0.5zM353 190.61h0.5V203.4h-0.5zM353.5 190.34h0.5V203.4h-0.5zM354 191.55h0.5V203.4h-0.5zM354.5 191.48h0.5V203.4h-0.5zM355 192.06h0.5V203.4h-0.5zM355.5 192.92h0.5V203.4h-0.5zM356 191.47h0.5V203.4h-0.5zM356.5 191.86h0.5V203.4h-0.5zM357 192.6h0.5V203.4h-0.5zM357.5 192.31h0.5V203.4h-0.5zM358 192.91h0.5V203.4h-0.5zM358.5 192.18h0.5V203.4h-0.5zM359 192.73h0.5V203.4h-0.5zM359.5 193.81h0.5V203.4h-0.5zM360 193.8h0.5V203.4h-0.5zM360.5 193.38h0.5V203.4h-0.5zM361 190.85h0.5V203.4h-0.5zM361.5 191.55h0.5V203.4h-0.5zM362 192.73h0.5V203.4h-0.5zM362.5 191.4h0.5V203.4h-0.5zM363 191.05h0.5V203.4h-0.5zM363.5 193.1h0.5V203.4h-0.5zM364 193.83h0.5V203.4h-0.5zM364.5 192.6h0.5V203.4h-0.5zM365 192.99h0.5V203.4h-0.5zM365.5 192.99h0.5V203.4h-0.5zM366 192.33h0.5V203.4h-0.5zM366.5 191.65h0.5V203.4h-0.5zM367 192.77h0.5V203.4h-0.5zM367.5 192.16h0.5V203.4h-0.5zM368 192.17h0.5V203.4h-0.5zM368.5 190.78h0.5V203.4h-0.5zM369 190.8h0.5V203.4h-0.5zM369.5 191.7h0.5V203.4h-0.5zM370 189.69h0.5V203.4h-0.5zM370.5 190.68h0.5V203.4h-0.5zM371 191.69h0.5V203.4h-0.5zM371.5 191.79h0.5V203.4h-0.5zM372 192.78h0.5V203.4h-0.5zM372.5 192.1h0.5V203.4h-0.5zM373 192.13h0.5V203.4h-0.5zM373.5 191.79h0.5V203.4h-0.5zM374 193.01h0.5V203.4h-0.5zM374.5 191.75h0.5V203.4h-0.5zM375 192.83h0.5V203.4h-0.5zM375.5 192.25h0.5V203.4h-0.5zM376 193.71h0.5V203.4h-0.5zM376.5 193.46h0.5V203.4h-0.5zM377 193.13h0.5V203.4h-0.5zM377.5 192.46h0.5V203.4h-0.5zM378 193.48h0.5V203.4h-0.5zM378.5 193.81h0.5V203.4h-0.5zM379 192.62h0.5V203.4h-0.5zM379.5 195.11h0.5V203.4h-0.5zM407.8 194.38h0.5V203.4h-0.5zM408.3 193.23h0.5V203.4h-0.5zM408.8 192.23h0.5V203.4h-0.5zM409.3 192.72h0.5V203.4h-0.5zM409.8 192.51h0.5V203.4h-0.5zM410.3 193.16h0.5V203.4h-0.5zM410.8 193.36h0.5V203.4h-0.5zM411.3 193.43h0.5V203.4h-0.5zM411.8 193.72h0.5V203.4h-0.5zM412.3 192.41h0.5V203.4h-0.5zM412.8 192.7h0.5V203.4h-0.5zM413.3 192.86h0.5V203.4h-0.5zM413.8 192.71h0.5V203.4h-0.5zM414.3 193.47h0.5V203.4h-0.5zM414.8 190.02h0.5V203.4h-0.5zM415.3 193.15h0.5V203.4h-0.5zM415.8 193.05h0.5V203.4h-0.5zM416.3 192.25h0.5V203.4h-0.5zM416.8 192.46h0.5V203.4h-0.5zM417.3 193.87h0.5V203.4h-0.5zM417.8 194.15h0.5V203.4h-0.5zM418.3 192.36h0.5V203.4h-0.5zM418.8 193.3h0.5V203.4h-0.5zM419.3 192.13h0.5V203.4h-0.5zM419.8 192.33h0.5V203.4h-0.5zM420.3 192.59h0.5V203.4h-0.5zM420.8 191.47h0.5V203.4h-0.5zM421.3 192.98h0.5V203.4h-0.5zM421.8 191.89h0.5V203.4h-0.5zM422.3 192h0.5V203.4h-0.5zM422.8 191.26h0.5V203.4h-0.5zM423.3 191.65h0.5V203.4h-0.5zM423.8 192.04h0.5V203.4h-0.5zM424.3 192.32h0.5V203.4h-0.5zM424.8 191.62h0.5V203.4h-0.5zM425.3 192.37h0.5V203.4h-0.5zM425.8 191.74h0.5V203.4h-0.5zM426.3 191.87h0.5V203.4h-0.5zM426.8 190.25h0.5V203.4h-0.5zM427.3 188.51h0.5V203.4h-0.5zM427.8 191.31h0.5V203.4h-0.5zM428.3 190.99h0.5V203.4h-0.5zM428.8 191.07h0.5V203.4h-0.5zM429.3 191.56h0.5V203.4h-0.5zM429.8 190.54h0.5V203.4h-0.5zM430.3 192.3h0.5V203.4h-0.5zM430.8 191.49h0.5V203.4h-0.5zM431.3 190.31h0.5V203.4h-0.5zM431.8 191.11h0.5V203.4h-0.5zM432.3 191.51h0.5V203.4h-0.5zM432.8 192.31h0.5V203.4h-0.5zM433.3 191.6h0.5V203.4h-0.5zM433.8 190.87h0.5V203.4h-0.5zM434.3 190.01h0.5V203.4h-0.5zM434.8 193.03h0.5V203.4h-0.5zM435.3 193.28h0.3V203.4h-0.3zM461 193.67h0.5V203.4h-0.5zM461.5 193.05h0.5V203.4h-0.5zM462 192.39h0.5V203.4h-0.5zM462.5 192.54h0.5V203.4h-0.5zM463 191.92h0.5V203.4h-0.5zM463.5 191.73h0.5V203.4h-0.5zM464 193.31h0.5V203.4h-0.5zM464.5 193.32h0.5V203.4h-0.5zM465 193.76h0.5V203.4h-0.5zM465.5 193.31h0.5V203.4h-0.5zM466 192.13h0.5V203.4h-0.5zM466.5 192.25h0.5V203.4h-0.5zM467 192.44h0.5V203.4h-0.5zM467.5 194.26h0.5V203.4h-0.5zM468 194.1h0.5V203.4h-0.5zM468.5 192.93h0.5V203.4h-0.5zM469 192.55h0.5V203.4h-0.5zM469.5 193.06h0.5V203.4h-0.5zM470 192.95h0.5V203.4h-0.5zM470.5 192.2h0.5V203.4h-0.5zM471 191.37h0.5V203.4h-0.5zM471.5 191.85h0.5V203.4h-0.5zM472 191.73h0.5V203.4h-0.5zM472.5 191.95h0.5V203.4h-0.5zM473 191.28h0.5V203.4h-0.5zM473.5 191.87h0.5V203.4h-0.5zM474 191.75h0.5V203.4h-0.5zM474.5 192.6h0.5V203.4h-0.5zM475 193h0.5V203.4h-0.5zM475.5 192.05h0.5V203.4h-0.5zM476 192.63h0.5V203.4h-0.5zM476.5 192.51h0.5V203.4h-0.5zM477 192.57h0.5V203.4h-0.5zM477.5 191.37h0.5V203.4h-0.5zM478 192.45h0.5V203.4h-0.5zM478.5 191.78h0.5V203.4h-0.5zM479 192.19h0.5V203.4h-0.5zM479.5 192.18h0.5V203.4h-0.5zM480 192.45h0.5V203.4h-0.5zM480.5 192.7h0.5V203.4h-0.5zM481 192.24h0.5V203.4h-0.5zM481.5 193.41h0.5V203.4h-0.5zM482 193.01h0.5V203.4h-0.5zM482.5 191.55h0.5V203.4h-0.5zM483 191.86h0.5V203.4h-0.5zM483.5 192.72h0.5V203.4h-0.5zM484 191.32h0.5V203.4h-0.5zM484.5 191.98h0.5V203.4h-0.5zM485 192.84h0.5V203.4h-0.5zM485.5 191.97h0.5V203.4h-0.5zM486 190.73h0.5V203.4h-0.5zM486.5 191.23h0.5V203.4h-0.5zM487 191.95h0.5V203.4h-0.5zM487.5 191.67h0.5V203.4h-0.5zM488 191.56h0.5V203.4h-0.5zM488.5 192.54h0.5V203.4h-0.5zM489 192.22h0.5V203.4h-0.5zM489.5 191.59h0.1V203.4h-0.1zM514.7 194.45h0.5V203.4h-0.5zM515.2 193.28h0.5V203.4h-0.5zM515.7 193.11h0.5V203.4h-0.5zM516.2 192.8h0.5V203.4h-0.5zM516.7 192.36h0.5V203.4h-0.5zM517.2 191.26h0.5V203.4h-0.5zM517.7 193.37h0.5V203.4h-0.5zM518.2 192.74h0.5V203.4h-0.5zM518.7 191.95h0.5V203.4h-0.5zM519.2 191.94h0.5V203.4h-0.5zM519.7 191.9h0.5V203.4h-0.5zM520.2 193.36h0.5V203.4h-0.5zM520.7 192.26h0.5V203.4h-0.5zM521.2 194.14h0.5V203.4h-0.5zM521.7 193.5h0.5V203.4h-0.5zM522.2 192.9h0.5V203.4h-0.5zM522.7 192.98h0.5V203.4h-0.5zM523.2 193.95h0.5V203.4h-0.5zM523.7 194.19h0.5V203.4h-0.5zM524.2 193.44h0.5V203.4h-0.5zM524.7 190.35h0.5V203.4h-0.5zM525.2 194.6h0.5V203.4h-0.5zM525.7 194.03h0.5V203.4h-0.5zM526.2 193.38h0.5V203.4h-0.5zM526.7 193.4h0.5V203.4h-0.5zM527.2 191.94h0.5V203.4h-0.5zM527.7 193.22h0.5V203.4h-0.5zM528.2 192.39h0.5V203.4h-0.5zM528.7 193.1h0.5V203.4h-0.5zM529.2 191.75h0.5V203.4h-0.5zM529.7 192.75h0.5V203.4h-0.5zM530.2 192.11h0.5V203.4h-0.5zM530.7 192.21h0.5V203.4h-0.5zM531.2 193.11h0.5V203.4h-0.5zM531.7 192.33h0.5V203.4h-0.5zM532.2 193.12h0.5V203.4h-0.5zM532.7 193.96h0.5V203.4h-0.5zM533.2 194.48h0.5V203.4h-0.5zM533.7 195.24h0.3V203.4h-0.3zM551.8 195.55h0.5V203.4h-0.5zM552.3 194.64h0.5V203.4h-0.5zM552.8 193.18h0.5V203.4h-0.5zM553.3 192.72h0.5V203.4h-0.5zM553.8 194.48h0.5V203.4h-0.5zM554.3 192.73h0.5V203.4h-0.5zM554.8 193.86h0.5V203.4h-0.5zM555.3 193.9h0.5V203.4h-0.5zM555.8 193.4h0.5V203.4h-0.5zM556.3 193.88h0.5V203.4h-0.5zM556.8 193.94h0.5V203.4h-0.5zM557.3 192.67h0.5V203.4h-0.5zM557.8 194.32h0.5V203.4h-0.5zM558.3 194.38h0.5V203.4h-0.5zM558.8 193.21h0.5V203.4h-0.5zM559.3 193.55h0.5V203.4h-0.5zM559.8 192.54h0.5V203.4h-0.5zM560.3 192.97h0.5V203.4h-0.5zM560.8 194.01h0.5V203.4h-0.5zM561.3 193.92h0.5V203.4h-0.5zM561.8 193.18h0.5V203.4h-0.5zM562.3 193.27h0.5V203.4h-0.5zM562.8 192.23h0.5V203.4h-0.5zM563.3 192.36h0.5V203.4h-0.5zM563.8 194.27h0.5V203.4h-0.5zM564.3 193.78h0.5V203.4h-0.5zM564.8 192.62h0.5V203.4h-0.5zM565.3 193.04h0.5V203.4h-0.5zM565.8 192.67h0.5V203.4h-0.5zM566.3 192.12h0.5V203.4h-0.5zM566.8 192.74h0.5V203.4h-0.5zM567.3 193.76h0.5V203.4h-0.5zM567.8 190.05h0.5V203.4h-0.5zM568.3 193.14h0.5V203.4h-0.5zM568.8 194.62h0.5V203.4h-0.5zM569.3 193.75h0.5V203.4h-0.5zM569.8 193.83h0.5V203.4h-0.5zM570.3 195.3h0.5V203.4h-0.5zM570.8 195.97h0.3V203.4h-0.3zM585.7 194.23h0.5V203.4h-0.5zM586.2 194.21h0.5V203.4h-0.5zM586.7 192.6h0.5V203.4h-0.5zM587.2 191.57h0.5V203.4h-0.5zM587.7 192.68h0.5V203.4h-0.5zM588.2 193.07h0.5V203.4h-0.5zM588.7 192.44h0.5V203.4h-0.5zM589.2 192.93h0.5V203.4h-0.5zM589.7 193.68h0.5V203.4h-0.5zM590.2 194.14h0.5V203.4h-0.5zM590.7 194.02h0.5V203.4h-0.5zM591.2 194.1h0.5V203.4h-0.5zM591.7 193.47h0.5V203.4h-0.5zM592.2 192.29h0.5V203.4h-0.5zM592.7 193.09h0.5V203.4h-0.5zM593.2 193.15h0.5V203.4h-0.5zM593.7 191.92h0.5V203.4h-0.5zM594.2 192.5h0.5V203.4h-0.5zM594.7 191.98h0.5V203.4h-0.5zM595.2 192.71h0.5V203.4h-0.5zM595.7 192.92h0.5V203.4h-0.5zM596.2 193.38h0.5V203.4h-0.5zM596.7 194.04h0.5V203.4h-0.5zM597.2 193.14h0.5V203.4h-0.5zM597.7 193.17h0.5V203.4h-0.5zM598.2 193.16h0.5V203.4h-0.5zM598.7 192.42h0.5V203.4h-0.5zM599.2 195.17h0.5V203.4h-0.5zM599.7 193.59h0.3V203.4h-0.3zM609.7 192.81h0.5V203.4h-0.5zM610.2 194.24h0.5V203.4h-0.5zM610.7 192.76h0.5V203.4h-0.5zM611.2 192.09h0.5V203.4h-0.5zM611.7 191.74h0.5V203.4h-0.5zM612.2 191.53h0.5V203.4h-0.5zM612.7 192.71h0.5V203.4h-0.5zM613.2 191.62h0.5V203.4h-0.5zM613.7 193.72h0.5V203.4h-0.5zM614.2 192.59h0.5V203.4h-0.5zM614.7 191.82h0.5V203.4h-0.5zM615.2 193.91h0.5V203.4h-0.5zM615.7 192.74h0.5V203.4h-0.5zM616.2 193.49h0.5V203.4h-0.5zM616.7 194.26h0.5V203.4h-0.5zM617.2 192.98h0.5V203.4h-0.5zM617.7 192.34h0.5V203.4h-0.5zM618.2 194.01h0.5V203.4h-0.5zM618.7 193.89h0.5V203.4h-0.5zM619.2 193.49h0.5V203.4h-0.5zM619.7 194.51h0.5V203.4h-0.5zM620.2 193.17h0.5V203.4h-0.5zM620.7 193.48h0.5V203.4h-0.5zM621.2 193.13h0.5V203.4h-0.5zM621.7 194h0.5V203.4h-0.5zM622.2 192.56h0.5V203.4h-0.5zM622.7 193.91h0.5V203.4h-0.5zM623.2 192.03h0.5V203.4h-0.5zM623.7 193.26h0.5V203.4h-0.5zM624.2 192.15h0.5V203.4h-0.5zM624.7 192.62h0.5V203.4h-0.5zM625.2 192.3h0.5V203.4h-0.5zM625.7 191.53h0.5V203.4h-0.5zM626.2 192.45h0.5V203.4h-0.5zM626.7 193.29h0.5V203.4h-0.5zM638.2 189.73h0.5V203.4h-0.5zM638.7 190.99h0.5V203.4h-0.5zM639.2 188.35h0.5V203.4h-0.5zM639.7 188.84h0.5V203.4h-0.5zM640.2 189.26h0.5V203.4h-0.5zM640.7 189.49h0.5V203.4h-0.5zM641.2 183.91h0.5V203.4h-0.5zM641.7 189.47h0.5V203.4h-0.5zM642.2 189.04h0.5V203.4h-0.5zM642.7 190.17h0.5V203.4h-0.5zM643.2 190.7h0.5V203.4h-0.5zM643.7 188.57h0.5V203.4h-0.5zM644.2 189.6h0.5V203.4h-0.5zM644.7 188.64h0.5V203.4h-0.5zM645.2 189.19h0.5V203.4h-0.5zM645.7 191.36h0.5V203.4h-0.5zM646.2 191.36h0.3V203.4h-0.3z" fill="#9a9a9a"/>
<line x1="45.6" y1="186.68" x2="684.5" y2="186.68" stroke="#a46464" stroke-width="0.9" />
<polyline points="84.3,54.2 110.5,79.7 110.5,180" fill="none" stroke="#c9c9c9" stroke-width="0.7" />
<polyline points="80.4,82.2 107.7,117.2 107.7,175" fill="none" stroke="#c9c9c9" stroke-width="0.7" />
<polyline points="83.7,124.2 98.4,127.7 98.4,166" fill="none" stroke="#c9c9c9" stroke-width="0.7" />
<polyline points="105.4,38.6 133.6,71.9 133.6,172" fill="none" stroke="#c9c9c9" stroke-width="0.7" />
<polyline points="165.6,39.9 165.6,179" fill="none" stroke="#c9c9c9" stroke-width="0.7" />
<polyline points="148.1,112.6 148.1,184" fill="none" stroke="#c9c9c9" stroke-width="0.7" />
<polyline points="178.6,43.3 178.6,176" fill="none" stroke="#c9c9c9" stroke-width="0.7" />
<polyline points="197.6,71.5 182.3,89.9 182.3,183" fill="none" stroke="#c9c9c9" stroke-width="0.7" />
<polyline points="229.6,74 197.6,102.2 197.6,175" fill="none" stroke="#c9c9c9" stroke-width="0.7" />
<polyline points="227.4,119.2 210.4,126.7 210.4,132" fill="none" stroke="#c9c9c9" stroke-width="0.7" />
<polyline points="268.8,39.2 268.8,70.5" fill="none" stroke="#c9c9c9" stroke-width="0.7" />
<polyline points="301.5,113.4 276.2,133.2 276.2,169" fill="none" stroke="#c9c9c9" stroke-width="0.7" />
<polyline points="329.5,60.9 329.5,167" fill="none" stroke="#c9c9c9" stroke-width="0.7" />
<polyline points="449.7,30.7 507.5,77.3 507.5,170" fill="none" stroke="#c9c9c9" stroke-width="0.7" />
<polyline points="439.5,55.2 495.7,97.7 495.7,181" fill="none" stroke="#c9c9c9" stroke-width="0.7" />
<polyline points="430,82.8 483.8,109.3 483.8,159" fill="none" stroke="#c9c9c9" stroke-width="0.7" />
<polyline points="523.8,83.7 510,95 510,182" fill="none" stroke="#c9c9c9" stroke-width="0.7" />
<polyline points="551.3,28.4 573.5,38.6 573.5,172" fill="none" stroke="#c9c9c9" stroke-width="0.7" />
<polyline points="575.1,32.9 575.1,170" fill="none" stroke="#c9c9c9" stroke-width="0.7" />
<polyline points="588.3,48.6 578.3,56.7 578.3,178" fill="none" stroke="#c9c9c9" stroke-width="0.7" />
<polyline points="602.6,106.7 602.6,183" fill="none" stroke="#c9c9c9" stroke-width="0.7" />
<polyline points="632.3,90 610.2,126.5 610.2,166" fill="none" stroke="#c9c9c9" stroke-width="0.7" />
<polyline points="637.2,127.8 612.9,148.1 612.9,166" fill="none" stroke="#c9c9c9" stroke-width="0.7" />
<polyline points="539.9,133.7 539.9,180" fill="none" stroke="#c9c9c9" stroke-width="0.7" />
<rect x="97.45" y="181.5" width="2.7" height="21.9" rx="1.35" fill="#1670b9"/>
<circle cx="98.8" cy="167" r="1.25" fill="#1670b9"/>
<circle cx="98.8" cy="173" r="1.25" fill="#1670b9"/>
<rect x="107.05" y="174" width="2.7" height="29.4" rx="1.35" fill="#1670b9"/>
<rect x="109.65" y="183.5" width="2.7" height="19.9" rx="1.35" fill="#1670b9"/>
<rect x="132.55" y="180.8" width="2.7" height="22.6" rx="1.35" fill="#1670b9"/>
<circle cx="133.9" cy="172.8" r="1.25" fill="#1670b9"/>
<circle cx="133.9" cy="174.6" r="1.25" fill="#1670b9"/>
<circle cx="133.9" cy="176.6" r="1.25" fill="#1670b9"/>
<rect x="146.85" y="184.4" width="2.7" height="19" rx="1.35" fill="#1670b9"/>
<rect x="165.05" y="179" width="2.7" height="24.4" rx="1.35" fill="#1670b9"/>
<rect x="178.15" y="176" width="2.7" height="27.4" rx="1.35" fill="#1670b9"/>
<rect x="182.05" y="183.3" width="2.7" height="20.1" rx="1.35" fill="#1670b9"/>
<rect x="196.95" y="175" width="2.7" height="28.4" rx="1.35" fill="#1670b9"/>
<rect x="209.7" y="176.6" width="2.8" height="26.8" rx="1.4" fill="#1670b9"/>
<rect x="209.7" y="132.4" width="2.8" height="16.6" rx="1.4" fill="#1670b9"/>
<circle cx="211.1" cy="151" r="1.35" fill="#1670b9"/>
<circle cx="211.1" cy="157" r="1.35" fill="#1670b9"/>
<circle cx="211.1" cy="158.6" r="1.35" fill="#1670b9"/>
<circle cx="211.1" cy="161.8" r="1.35" fill="#1670b9"/>
<rect x="268.65" y="70.7" width="2.7" height="14.5" rx="1.35" fill="#1670b9"/>
<circle cx="270" cy="87.2" r="1.3" fill="#1670b9"/>
<rect x="268.65" y="89" width="2.7" height="31.6" rx="1.35" fill="#1670b9"/>
<rect x="268.65" y="122" width="2.7" height="9" rx="1.35" fill="#1670b9"/>
<rect x="268.65" y="133.2" width="2.7" height="12.8" rx="1.35" fill="#1670b9"/>
<circle cx="270" cy="148.2" r="1.3" fill="#1670b9"/>
<circle cx="270" cy="150.4" r="1.3" fill="#1670b9"/>
<circle cx="270" cy="152.6" r="1.3" fill="#1670b9"/>
<circle cx="270" cy="154.6" r="1.3" fill="#1670b9"/>
<circle cx="270" cy="156.6" r="1.3" fill="#1670b9"/>
<rect x="268.65" y="158.6" width="2.7" height="2.4" rx="1.35" fill="#1670b9"/>
<rect x="268.65" y="163.8" width="2.7" height="39.6" rx="1.35" fill="#1670b9"/>
<rect x="275.55" y="169.3" width="2.7" height="34.1" rx="1.35" fill="#1670b9"/>
<circle cx="292.9" cy="22.3" r="1.3" fill="#1670b9"/>
<circle cx="292.9" cy="24.2" r="1.3" fill="#1670b9"/>
<circle cx="292.9" cy="26" r="1.3" fill="#1670b9"/>
<circle cx="292.9" cy="27.6" r="1.3" fill="#1670b9"/>
<rect x="291.5" y="36" width="2.8" height="8.6" rx="1.4" fill="#1670b9"/>
<rect x="291.5" y="45.4" width="2.8" height="6.4" rx="1.4" fill="#1670b9"/>
<rect x="291.5" y="52.6" width="2.8" height="8.4" rx="1.4" fill="#1670b9"/>
<rect x="290.9" y="65.8" width="4.1" height="137.6" rx="1.4" fill="#1670b9"/>
<rect x="289" y="61.2" width="8" height="4.4" fill="#fff"/>
<line x1="287" y1="62.5" x2="297" y2="59.2" stroke="#333" stroke-width="0.8" />
<line x1="287" y1="67" x2="297" y2="63.8" stroke="#333" stroke-width="0.8" />
<rect x="329.15" y="167" width="2.7" height="36.4" rx="1.35" fill="#1670b9"/>
<circle cx="484.2" cy="159.6" r="1.25" fill="#1670b9"/>
<circle cx="484.2" cy="161.3" r="1.25" fill="#1670b9"/>
<circle cx="484.2" cy="163" r="1.25" fill="#1670b9"/>
<circle cx="484.2" cy="164.4" r="1.25" fill="#1670b9"/>
<circle cx="484.2" cy="170.5" r="1.25" fill="#1670b9"/>
<rect x="482.85" y="173.5" width="2.7" height="29.9" rx="1.35" fill="#1670b9"/>
<rect x="495.55" y="181.8" width="2.7" height="21.6" rx="1.35" fill="#1670b9"/>
<rect x="507.25" y="169.6" width="2.7" height="33.8" rx="1.35" fill="#1670b9"/>
<rect x="509.15" y="183" width="2.7" height="20.4" rx="1.35" fill="#1670b9"/>
<rect x="539.65" y="180" width="2.7" height="23.4" rx="1.35" fill="#1670b9"/>
<circle cx="574.1" cy="170.2" r="1.25" fill="#1670b9"/>
<circle cx="574.1" cy="177.2" r="1.25" fill="#1670b9"/>
<rect x="572.65" y="180.2" width="2.7" height="23.2" rx="1.35" fill="#1670b9"/>
<rect x="574.65" y="181.5" width="2.7" height="21.9" rx="1.35" fill="#1670b9"/>
<rect x="576.65" y="182.5" width="2.7" height="20.9" rx="1.35" fill="#1670b9"/>
<rect x="572.7" y="186" width="7.2" height="17.4" fill="#1670b9"/>
<circle cx="577.2" cy="184.5" r="1.25" fill="#1670b9"/>
<circle cx="577.2" cy="183.6" r="1.25" fill="#1670b9"/>
<rect x="601.8" y="182.8" width="3.5" height="20.6" rx="1.5" fill="#1670b9"/>
<rect x="611.2" y="166.1" width="3.6" height="37.3" rx="1.5" fill="#1670b9"/>
<rect x="610.2" y="182" width="2" height="21.4" fill="#1670b9"/>
<circle cx="611" cy="180" r="1.25" fill="#1670b9"/>
<circle cx="611" cy="176.5" r="1.25" fill="#1670b9"/>
<line x1="45.6" y1="4.2" x2="45.6" y2="60.7" stroke="#5e5e5e" stroke-width="0.9" />
<line x1="45.6" y1="65.7" x2="45.6" y2="203.4" stroke="#5e5e5e" stroke-width="0.9" />
<line x1="45.15" y1="203.4" x2="683.3" y2="203.4" stroke="#5e5e5e" stroke-width="0.9" />
<line x1="41.4" y1="61.3" x2="50.8" y2="59.1" stroke="#5e5e5e" stroke-width="0.8" />
<line x1="41.4" y1="66.8" x2="50.8" y2="64.8" stroke="#5e5e5e" stroke-width="0.8" />
<line x1="41.8" y1="203.4" x2="45.6" y2="203.4" stroke="#5e5e5e" stroke-width="0.8" />
<text transform="translate(37.7,206.58) scale(1,1.07)" font-size="8.1" text-anchor="end" fill="#222" >0</text>
<line x1="41.8" y1="180.5" x2="45.6" y2="180.5" stroke="#5e5e5e" stroke-width="0.8" />
<text transform="translate(37.7,183.68) scale(1,1.07)" font-size="8.1" text-anchor="end" fill="#222" >10</text>
<line x1="41.8" y1="157.6" x2="45.6" y2="157.6" stroke="#5e5e5e" stroke-width="0.8" />
<text transform="translate(37.7,160.78) scale(1,1.07)" font-size="8.1" text-anchor="end" fill="#222" >20</text>
<line x1="41.8" y1="134.7" x2="45.6" y2="134.7" stroke="#5e5e5e" stroke-width="0.8" />
<text transform="translate(37.7,137.88) scale(1,1.07)" font-size="8.1" text-anchor="end" fill="#222" >30</text>
<line x1="41.8" y1="111.8" x2="45.6" y2="111.8" stroke="#5e5e5e" stroke-width="0.8" />
<text transform="translate(37.7,114.98) scale(1,1.07)" font-size="8.1" text-anchor="end" fill="#222" >40</text>
<line x1="41.8" y1="88.9" x2="45.6" y2="88.9" stroke="#5e5e5e" stroke-width="0.8" />
<text transform="translate(37.7,92.08) scale(1,1.07)" font-size="8.1" text-anchor="end" fill="#222" >50</text>
<line x1="41.8" y1="66" x2="45.6" y2="66" stroke="#5e5e5e" stroke-width="0.8" />
<text transform="translate(37.7,70.68) scale(1,1.07)" font-size="8.1" text-anchor="end" fill="#222" >60</text>
<line x1="41.8" y1="60.4" x2="45.6" y2="60.4" stroke="#5e5e5e" stroke-width="0.8" />
<text transform="translate(37.7,61.78) scale(1,1.07)" font-size="8.1" text-anchor="end" fill="#222" >290</text>
<line x1="41.8" y1="38.1" x2="45.6" y2="38.1" stroke="#5e5e5e" stroke-width="0.8" />
<text transform="translate(37.7,41.28) scale(1,1.07)" font-size="8.1" text-anchor="end" fill="#222" >300</text>
<line x1="41.8" y1="15.8" x2="45.6" y2="15.8" stroke="#5e5e5e" stroke-width="0.8" />
<text transform="translate(37.7,18.98) scale(1,1.07)" font-size="8.1" text-anchor="end" fill="#222" >310</text>
<text transform="translate(18.3,127.3) rotate(-90) scale(1,1.05)" font-size="7.8" fill="#222">&#8722;log<tspan font-size="5.0" dy="1.8">10</tspan><tspan dy="-1.8">(</tspan><tspan font-style="italic">P</tspan><tspan font-size="4.6" dy="1.9">GWAS</tspan><tspan dy="-1.9">)</tspan></text>
<text transform="translate(101.5,213.7) scale(1,1.07)" font-size="7.6" text-anchor="middle" fill="#222" >1</text>
<text transform="translate(148.9,213.7) scale(1,1.07)" font-size="7.6" text-anchor="middle" fill="#222" >2</text>
<text transform="translate(190.9,213.7) scale(1,1.07)" font-size="7.6" text-anchor="middle" fill="#222" >3</text>
<text transform="translate(227.8,213.7) scale(1,1.07)" font-size="7.6" text-anchor="middle" fill="#222" >4</text>
<text transform="translate(266,213.7) scale(1,1.07)" font-size="7.6" text-anchor="middle" fill="#222" >5</text>
<text transform="translate(302.2,213.7) scale(1,1.07)" font-size="7.6" text-anchor="middle" fill="#222" >6</text>
<text transform="translate(333,213.7) scale(1,1.07)" font-size="7.6" text-anchor="middle" fill="#222" >7</text>
<text transform="translate(363.7,213.7) scale(1,1.07)" font-size="7.6" text-anchor="middle" fill="#222" >8</text>
<text transform="translate(392.9,213.7) scale(1,1.07)" font-size="7.6" text-anchor="middle" fill="#222" >9</text>
<text transform="translate(419.1,213.7) scale(1,1.07)" font-size="7.6" text-anchor="middle" fill="#222" >10</text>
<text transform="translate(445.6,213.7) scale(1,1.07)" font-size="7.6" text-anchor="middle" fill="#222" >11</text>
<text transform="translate(475.3,213.7) scale(1,1.07)" font-size="7.6" text-anchor="middle" fill="#222" >12</text>
<text transform="translate(499.1,213.7) scale(1,1.07)" font-size="7.6" text-anchor="middle" fill="#222" >13</text>
<text transform="translate(522.5,213.7) scale(1,1.07)" font-size="7.6" text-anchor="middle" fill="#222" >14</text>
<text transform="translate(542.3,213.7) scale(1,1.07)" font-size="7.6" text-anchor="middle" fill="#222" >15</text>
<text transform="translate(574.8,213.7) scale(1,1.07)" font-size="7.6" text-anchor="middle" fill="#222" >17</text>
<text transform="translate(605.5,213.7) scale(1,1.07)" font-size="7.6" text-anchor="middle" fill="#222" >19</text>
<text transform="translate(631.7,213.7) scale(1,1.07)" font-size="7.6" text-anchor="middle" fill="#222" >21</text>
<text transform="translate(661.1,213.7) scale(1,1.07)" font-size="7.6" text-anchor="middle" fill="#222" >X</text>
<rect x="52.6" y="44.4" width="31.5" height="18.7" fill="#fff" stroke="#b9b9b9" stroke-width="0.8"/>
<text transform="translate(57.6,51.2) scale(1,1.07)" font-size="6.4" text-anchor="start" fill="#222" >1q25.1</text>
<text transform="translate(57.6,59.1) scale(1,1.07)" font-size="6.4" text-anchor="start" font-style="italic" fill="#222" >PRDX6</text>
<rect x="49.3" y="70.7" width="31.3" height="18.7" fill="#fff" stroke="#b9b9b9" stroke-width="0.8"/>
<text transform="translate(51.1,78.6) scale(1,1.07)" font-size="6.4" text-anchor="start" fill="#222" >1q23.3</text>
<text transform="translate(51.1,86.5) scale(1,1.07)" font-size="6.4" text-anchor="start" font-style="italic" fill="#222" >SLAMF7</text>
<rect x="53.4" y="115.9" width="30.1" height="19.6" fill="#fff" stroke="#b9b9b9" stroke-width="0.8"/>
<text transform="translate(55.9,123.9) scale(1,1.07)" font-size="6.4" text-anchor="start" fill="#222" >1p13.2</text>
<text transform="translate(55.9,131.5) scale(1,1.07)" font-size="6.4" text-anchor="start" font-style="italic" fill="#222" >PTPN22</text>
<rect x="85.3" y="19.9" width="31.2" height="18.8" fill="#fff" stroke="#b9b9b9" stroke-width="0.8"/>
<text transform="translate(88.6,28.1) scale(1,1.07)" font-size="6.4" text-anchor="start" fill="#222" >2p22.1</text>
<text transform="translate(88.6,36) scale(1,1.07)" font-size="6.4" text-anchor="start" font-style="italic" fill="#222" >SLC8A1</text>
<rect x="140.4" y="20.8" width="28.8" height="19.4" fill="#fff" stroke="#b9b9b9" stroke-width="0.8"/>
<text transform="translate(144,29.1) scale(1,1.07)" font-size="6.4" text-anchor="start" fill="#222" >2q33.2</text>
<text transform="translate(144,36.7) scale(1,1.07)" font-size="6.4" text-anchor="start" font-style="italic" fill="#222" >CTLA4</text>
<rect x="134.4" y="93.2" width="29.1" height="19.1" fill="#fff" stroke="#b9b9b9" stroke-width="0.8"/>
<text transform="translate(135.6,101.5) scale(1,1.07)" font-size="6.4" text-anchor="start" fill="#222" >2q13</text>
<text transform="translate(135.6,109.1) scale(1,1.07)" font-size="6.4" text-anchor="start" font-style="italic" fill="#222" >ANAPC1</text>
<rect x="171.6" y="5.4" width="28.9" height="18" fill="#fff" stroke="#b9b9b9" stroke-width="0.8"/>
<text transform="translate(173.9,11.6) scale(1,1.07)" font-size="6.4" text-anchor="start" fill="#222" >3p24.1</text>
<text transform="translate(173.9,19.4) scale(1,1.07)" font-size="6.4" text-anchor="start" font-style="italic" fill="#222" >EOMES</text>
<rect x="172" y="24.8" width="28.5" height="18.6" fill="#fff" stroke="#b9b9b9" stroke-width="0.8"/>
<text transform="translate(175.9,32.1) scale(1,1.07)" font-size="6.4" text-anchor="start" fill="#222" >3p24.1</text>
<text transform="translate(175.9,39.7) scale(1,1.07)" font-size="6.4" text-anchor="start" font-style="italic" fill="#222" >CMC1</text>
<rect x="186.5" y="52.8" width="31.1" height="18.7" fill="#fff" stroke="#b9b9b9" stroke-width="0.8"/>
<text transform="translate(189.3,60.9) scale(1,1.07)" font-size="6.4" text-anchor="start" fill="#222" >3p21.31</text>
<text transform="translate(189.3,68.9) scale(1,1.07)" font-size="6.4" text-anchor="start" font-style="italic" fill="#222" >CCR2</text>
<rect x="230.4" y="53.7" width="32" height="19.3" fill="#fff" stroke="#b9b9b9" stroke-width="0.8"/>
<text transform="translate(231.8,61.3) scale(1,1.07)" font-size="6.4" text-anchor="start" fill="#222" >3p21.1</text>
<text transform="translate(231.8,69.1) scale(1,1.07)" font-size="6.4" text-anchor="start" font-style="italic" fill="#222" >PARP15</text>
<rect x="230.7" y="73.7" width="31.7" height="19.4" fill="#fff" stroke="#b9b9b9" stroke-width="0.8"/>
<text transform="translate(232.8,80.8) scale(1,1.07)" font-size="6.4" text-anchor="start" fill="#222" >13q13.33</text>
<text transform="translate(232.8,88.3) scale(1,1.07)" font-size="6.4" text-anchor="start" font-style="italic" fill="#222" >ILDR1</text>
<rect x="227.7" y="99.2" width="28.7" height="19.3" fill="#fff" stroke="#b9b9b9" stroke-width="0.8"/>
<text transform="translate(233.2,106.8) scale(1,1.07)" font-size="6.4" text-anchor="start" fill="#222" >3q28</text>
<text transform="translate(233.2,114.6) scale(1,1.07)" font-size="6.4" text-anchor="start" font-style="italic" fill="#222" >LPP</text>
<rect x="228.1" y="120" width="28.4" height="19.2" fill="#fff" stroke="#b9b9b9" stroke-width="0.8"/>
<text transform="translate(233.8,128) scale(1,1.07)" font-size="6.4" text-anchor="start" fill="#222" >3q28</text>
<text transform="translate(233.8,135.6) scale(1,1.07)" font-size="6.4" text-anchor="start" font-style="italic" fill="#222" >TP63</text>
<rect x="252.4" y="20.4" width="29.2" height="18.9" fill="#fff" stroke="#b9b9b9" stroke-width="0.8"/>
<text transform="translate(256.2,28) scale(1,1.07)" font-size="6.4" text-anchor="start" fill="#222" >5q15</text>
<text transform="translate(256.2,35.7) scale(1,1.07)" font-size="6.4" text-anchor="start" font-style="italic" fill="#222" >ERAP2</text>
<rect x="284.3" y="4.1" width="40.4" height="17.4" fill="#fff" stroke="#b9b9b9" stroke-width="0.8"/>
<text transform="translate(287.7,11) scale(1,1.07)" font-size="6.4" text-anchor="start" fill="#222" >6p21.32</text>
<text transform="translate(287.7,18.9) scale(1,1.07)" font-size="6.4" text-anchor="start" fill="#222" >MHC region</text>
<rect x="296.5" y="94.2" width="27.9" height="19.3" fill="#fff" stroke="#b9b9b9" stroke-width="0.8"/>
<text transform="translate(299.6,101.8) scale(1,1.07)" font-size="6.4" text-anchor="start" fill="#222" >5q31.1</text>
<text transform="translate(299.6,109.9) scale(1,1.07)" font-size="6.4" text-anchor="start" font-style="italic" fill="#222" >IRF1</text>
<rect x="314.4" y="43.4" width="30.8" height="17.4" fill="#fff" stroke="#b9b9b9" stroke-width="0.8"/>
<text transform="translate(315,49.8) scale(1,1.07)" font-size="6.4" text-anchor="start" fill="#222" >7p12.2</text>
<text transform="translate(315,57.2) scale(1,1.07)" font-size="6.4" text-anchor="start" font-style="italic" fill="#222" >SPATA48</text>
<rect x="419.9" y="22.5" width="29.9" height="17.4" fill="#fff" stroke="#b9b9b9" stroke-width="0.8"/>
<text transform="translate(422.5,30.2) scale(1,1.07)" font-size="6.4" text-anchor="start" fill="#222" >13q32.3</text>
<text transform="translate(422.5,37.7) scale(1,1.07)" font-size="6.4" text-anchor="start" font-style="italic" fill="#222" >UBAC2</text>
<rect x="406.6" y="43.5" width="32.9" height="17.5" fill="#fff" stroke="#b9b9b9" stroke-width="0.8"/>
<text transform="translate(408.9,51) scale(1,1.07)" font-size="6.4" text-anchor="start" fill="#222" >13q14.11</text>
<text transform="translate(408.9,58.5) scale(1,1.07)" font-size="6.4" text-anchor="start" font-style="italic" fill="#222" >FOXO1</text>
<rect x="397.2" y="72.6" width="32.7" height="17.5" fill="#fff" stroke="#b9b9b9" stroke-width="0.8"/>
<text transform="translate(398.8,79.8) scale(1,1.07)" font-size="6.4" text-anchor="start" fill="#222" >12q24.12</text>
<text transform="translate(398.8,87.2) scale(1,1.07)" font-size="6.4" text-anchor="start" font-style="italic" fill="#222" >SH2B3</text>
<rect x="507.4" y="17.9" width="43.8" height="19.8" fill="#fff" stroke="#b9b9b9" stroke-width="0.8"/>
<text transform="translate(509,25.4) scale(1,1.07)" font-size="6.4" text-anchor="start" fill="#222" >17p11.2</text>
<text transform="translate(509,33.7) scale(1,1.07)" font-size="6.4" text-anchor="start" font-style="italic" fill="#222" >TNFRSF13B</text>
<rect x="570.1" y="15.8" width="30.6" height="17" fill="#fff" stroke="#b9b9b9" stroke-width="0.8"/>
<text transform="translate(574.3,22.5) scale(1,1.07)" font-size="6.4" text-anchor="start" fill="#222" >17q11.1</text>
<text transform="translate(574.3,29.9) scale(1,1.07)" font-size="6.4" text-anchor="start" font-style="italic" fill="#222" >KSR1</text>
<rect x="588.5" y="40.7" width="26.3" height="18.7" fill="#fff" stroke="#b9b9b9" stroke-width="0.8"/>
<text transform="translate(592.6,48.5) scale(1,1.07)" font-size="6.4" text-anchor="start" fill="#222" >17q12</text>
<text transform="translate(592.6,55.9) scale(1,1.07)" font-size="6.4" text-anchor="start" font-style="italic" fill="#222" >GRB7</text>
<rect x="524.5" y="73.1" width="34.5" height="17.1" fill="#fff" stroke="#b9b9b9" stroke-width="0.8"/>
<text transform="translate(524.9,80) scale(1,1.07)" font-size="6.4" text-anchor="start" fill="#222" >13q33.3</text>
<text transform="translate(524.9,88) scale(1,1.07)" font-size="6.4" text-anchor="start" font-style="italic" fill="#222" >TNFSF13B</text>
<rect x="634.9" y="69.4" width="34.7" height="18.4" fill="#fff" stroke="#b9b9b9" stroke-width="0.8"/>
<text transform="translate(637,76.9) scale(1,1.07)" font-size="6.4" text-anchor="start" fill="#222" >19p13.32</text>
<text transform="translate(637,84.8) scale(1,1.07)" font-size="6.4" text-anchor="start" font-style="italic" fill="#222" >BCL3</text>
<rect x="588.5" y="88.3" width="27.1" height="18.6" fill="#fff" stroke="#b9b9b9" stroke-width="0.8"/>
<text transform="translate(590.5,96.2) scale(1,1.07)" font-size="6.4" text-anchor="start" fill="#222" >19p13.3</text>
<text transform="translate(590.5,103.7) scale(1,1.07)" font-size="6.4" text-anchor="start" font-style="italic" fill="#222" >CD70</text>
<rect x="524.2" y="117.3" width="27.1" height="16.7" fill="#fff" stroke="#b9b9b9" stroke-width="0.8"/>
<text transform="translate(525.7,124.3) scale(1,1.07)" font-size="6.4" text-anchor="start" fill="#222" >15q15.1</text>
<text transform="translate(525.7,132) scale(1,1.07)" font-size="6.4" text-anchor="start" font-style="italic" fill="#222" >CHP1</text>
<rect x="637.9" y="114.1" width="33.5" height="18.4" fill="#fff" stroke="#b9b9b9" stroke-width="0.8"/>
<text transform="translate(639.7,121.6) scale(1,1.07)" font-size="6.4" text-anchor="start" fill="#222" >19q13.42</text>
<text transform="translate(639.7,129.5) scale(1,1.07)" font-size="6.4" text-anchor="start" font-style="italic" fill="#222" >LILRB1</text>
<text x="0.5" y="232.7" font-size="9.6" font-weight="bold" fill="#000" style="stroke:#000;stroke-width:0.35px">b</text>
<line x1="145.2" y1="247.2" x2="145.2" y2="371.4" stroke="#bdbdbd" stroke-width="0.8" stroke-dasharray="1,1.3"/>
<line x1="79.1" y1="247.2" x2="79.1" y2="371.85" stroke="#8c8c8c" stroke-width="0.9" />
<line x1="78.65" y1="371.4" x2="210.4" y2="371.4" stroke="#6b6b6b" stroke-width="0.9" />
<line x1="75.3" y1="254.1" x2="79.1" y2="254.1" stroke="#8a8a8a" stroke-width="0.8" />
<text transform="translate(70.8,257.37) scale(1,1.07)" font-size="7.8" text-anchor="end" fill="#222" >HLA-DRB1*04:04</text>
<line x1="197.7" y1="256.4" x2="204.6" y2="256.4" stroke="#b0b0b0" stroke-width="0.9" />
<line x1="197.7" y1="255.2" x2="197.7" y2="257.6" stroke="#b0b0b0" stroke-width="0.8" />
<line x1="204.6" y1="255.2" x2="204.6" y2="257.6" stroke="#b0b0b0" stroke-width="0.8" />
<circle cx="200.4" cy="256.4" r="2" fill="#b0b0b0"/>
<line x1="202" y1="251.8" x2="206.4" y2="251.8" stroke="#111" stroke-width="0.9" />
<line x1="202" y1="250.6" x2="202" y2="253" stroke="#111" stroke-width="0.8" />
<line x1="206.4" y1="250.6" x2="206.4" y2="253" stroke="#111" stroke-width="0.8" />
<circle cx="204.3" cy="251.8" r="2" fill="#111"/>
<line x1="75.3" y1="266.35" x2="79.1" y2="266.35" stroke="#8a8a8a" stroke-width="0.8" />
<text transform="translate(70.8,269.62) scale(1,1.07)" font-size="7.8" text-anchor="end" fill="#222" >HLA-A*02:01</text>
<circle cx="126.8" cy="268.65" r="2" fill="#b0b0b0"/>
<circle cx="124.4" cy="264.05" r="2" fill="#111"/>
<line x1="75.3" y1="278.6" x2="79.1" y2="278.6" stroke="#8a8a8a" stroke-width="0.8" />
<text transform="translate(70.8,281.87) scale(1,1.07)" font-size="7.8" text-anchor="end" fill="#222" >HLA-B*14:02</text>
<line x1="103.2" y1="280.9" x2="109.3" y2="280.9" stroke="#b0b0b0" stroke-width="0.9" />
<line x1="103.2" y1="279.7" x2="103.2" y2="282.1" stroke="#b0b0b0" stroke-width="0.8" />
<line x1="109.3" y1="279.7" x2="109.3" y2="282.1" stroke="#b0b0b0" stroke-width="0.8" />
<circle cx="105.9" cy="280.9" r="2" fill="#b0b0b0"/>
<line x1="97.7" y1="276.3" x2="103.6" y2="276.3" stroke="#111" stroke-width="0.9" />
<line x1="97.7" y1="275.1" x2="97.7" y2="277.5" stroke="#111" stroke-width="0.8" />
<line x1="103.6" y1="275.1" x2="103.6" y2="277.5" stroke="#111" stroke-width="0.8" />
<circle cx="100.1" cy="276.3" r="2" fill="#111"/>
<line x1="75.3" y1="290.85" x2="79.1" y2="290.85" stroke="#8a8a8a" stroke-width="0.8" />
<text transform="translate(70.8,294.12) scale(1,1.07)" font-size="7.8" text-anchor="end" fill="#222" >HLA-DPA1*02:01</text>
<circle cx="127.1" cy="293.15" r="2" fill="#b0b0b0"/>
<circle cx="125" cy="288.55" r="2" fill="#111"/>
<line x1="75.3" y1="303.1" x2="79.1" y2="303.1" stroke="#8a8a8a" stroke-width="0.8" />
<text transform="translate(70.8,306.37) scale(1,1.07)" font-size="7.8" text-anchor="end" fill="#222" >HLA-B*35:01</text>
<line x1="111" y1="305.4" x2="116.3" y2="305.4" stroke="#b0b0b0" stroke-width="0.9" />
<line x1="111" y1="304.2" x2="111" y2="306.6" stroke="#b0b0b0" stroke-width="0.8" />
<line x1="116.3" y1="304.2" x2="116.3" y2="306.6" stroke="#b0b0b0" stroke-width="0.8" />
<circle cx="113.7" cy="305.4" r="2" fill="#b0b0b0"/>
<line x1="114.5" y1="300.8" x2="118.9" y2="300.8" stroke="#111" stroke-width="0.9" />
<line x1="114.5" y1="299.6" x2="114.5" y2="302" stroke="#111" stroke-width="0.8" />
<line x1="118.9" y1="299.6" x2="118.9" y2="302" stroke="#111" stroke-width="0.8" />
<circle cx="116.6" cy="300.8" r="2" fill="#111"/>
<line x1="75.3" y1="315.35" x2="79.1" y2="315.35" stroke="#8a8a8a" stroke-width="0.8" />
<text transform="translate(70.8,318.62) scale(1,1.07)" font-size="7.8" text-anchor="end" fill="#222" >HLA-B*08:01</text>
<line x1="131" y1="317.65" x2="136.8" y2="317.65" stroke="#b0b0b0" stroke-width="0.9" />
<line x1="131" y1="316.45" x2="131" y2="318.85" stroke="#b0b0b0" stroke-width="0.8" />
<line x1="136.8" y1="316.45" x2="136.8" y2="318.85" stroke="#b0b0b0" stroke-width="0.8" />
<circle cx="133.6" cy="317.65" r="2" fill="#b0b0b0"/>
<circle cx="125.5" cy="313.05" r="2" fill="#111"/>
<line x1="75.3" y1="327.6" x2="79.1" y2="327.6" stroke="#8a8a8a" stroke-width="0.8" />
<text transform="translate(70.8,330.87) scale(1,1.07)" font-size="7.8" text-anchor="end" fill="#222" >HLA-DRB1*01:03</text>
<line x1="87.5" y1="329.9" x2="100.1" y2="329.9" stroke="#b0b0b0" stroke-width="0.9" />
<line x1="87.5" y1="328.7" x2="87.5" y2="331.1" stroke="#b0b0b0" stroke-width="0.8" />
<line x1="100.1" y1="328.7" x2="100.1" y2="331.1" stroke="#b0b0b0" stroke-width="0.8" />
<circle cx="93" cy="329.9" r="2" fill="#b0b0b0"/>
<line x1="93.6" y1="325.3" x2="100.8" y2="325.3" stroke="#111" stroke-width="0.9" />
<line x1="93.6" y1="324.1" x2="93.6" y2="326.5" stroke="#111" stroke-width="0.8" />
<line x1="100.8" y1="324.1" x2="100.8" y2="326.5" stroke="#111" stroke-width="0.8" />
<circle cx="97.1" cy="325.3" r="2" fill="#111"/>
<line x1="75.3" y1="339.85" x2="79.1" y2="339.85" stroke="#8a8a8a" stroke-width="0.8" />
<text transform="translate(70.8,343.12) scale(1,1.07)" font-size="7.8" text-anchor="end" fill="#222" >HLA-DRB1*12:01</text>
<line x1="99.7" y1="342.15" x2="110" y2="342.15" stroke="#b0b0b0" stroke-width="0.9" />
<line x1="99.7" y1="340.95" x2="99.7" y2="343.35" stroke="#b0b0b0" stroke-width="0.8" />
<line x1="110" y1="340.95" x2="110" y2="343.35" stroke="#b0b0b0" stroke-width="0.8" />
<circle cx="104.6" cy="342.15" r="2" fill="#b0b0b0"/>
<line x1="100.1" y1="337.55" x2="107.9" y2="337.55" stroke="#111" stroke-width="0.9" />
<line x1="100.1" y1="336.35" x2="100.1" y2="338.75" stroke="#111" stroke-width="0.8" />
<line x1="107.9" y1="336.35" x2="107.9" y2="338.75" stroke="#111" stroke-width="0.8" />
<circle cx="104.2" cy="337.55" r="2" fill="#111"/>
<line x1="75.3" y1="352.1" x2="79.1" y2="352.1" stroke="#8a8a8a" stroke-width="0.8" />
<text transform="translate(70.8,355.37) scale(1,1.07)" font-size="7.8" text-anchor="end" fill="#222" >HLA-DRB1*11:04</text>
<line x1="99.7" y1="354.4" x2="106.9" y2="354.4" stroke="#b0b0b0" stroke-width="0.9" />
<line x1="99.7" y1="353.2" x2="99.7" y2="355.6" stroke="#b0b0b0" stroke-width="0.8" />
<line x1="106.9" y1="353.2" x2="106.9" y2="355.6" stroke="#b0b0b0" stroke-width="0.8" />
<circle cx="103.2" cy="354.4" r="2" fill="#b0b0b0"/>
<line x1="99.5" y1="349.8" x2="107.7" y2="349.8" stroke="#111" stroke-width="0.9" />
<line x1="99.5" y1="348.6" x2="99.5" y2="351" stroke="#111" stroke-width="0.8" />
<line x1="107.7" y1="348.6" x2="107.7" y2="351" stroke="#111" stroke-width="0.8" />
<circle cx="103.8" cy="349.8" r="2" fill="#111"/>
<line x1="75.3" y1="364.35" x2="79.1" y2="364.35" stroke="#8a8a8a" stroke-width="0.8" />
<text transform="translate(70.8,367.62) scale(1,1.07)" font-size="7.8" text-anchor="end" fill="#222" >HLA-DPB1*03:01</text>
<circle cx="131.5" cy="366.65" r="2" fill="#b0b0b0"/>
<circle cx="134.9" cy="362.05" r="2" fill="#111"/>
<line x1="109.25" y1="371.4" x2="109.25" y2="374.6" stroke="#8a8a8a" stroke-width="0.8" />
<text transform="translate(108.95,385.74) scale(1,1.07)" font-size="8.0" text-anchor="middle" fill="#222" >&#8722;0.5</text>
<line x1="145.2" y1="371.4" x2="145.2" y2="374.6" stroke="#8a8a8a" stroke-width="0.8" />
<text transform="translate(144.9,385.74) scale(1,1.07)" font-size="8.0" text-anchor="middle" fill="#222" >0</text>
<line x1="181.15" y1="371.4" x2="181.15" y2="374.6" stroke="#8a8a8a" stroke-width="0.8" />
<text transform="translate(180.85,385.74) scale(1,1.07)" font-size="8.0" text-anchor="middle" fill="#222" >0.5</text>
<text transform="translate(142,398.04) scale(1,1.07)" font-size="8.0" text-anchor="middle" fill="#222" >Beta</text>
<text transform="translate(218.6,337.45) scale(1,1.07)" font-size="8.0" text-anchor="start" fill="#222" >Biobank</text>
<line x1="218.8" y1="347.7" x2="234" y2="347.7" stroke="#111" stroke-width="0.9" />
<circle cx="226.9" cy="347.7" r="2" fill="#111"/>
<text transform="translate(237.5,350.54) scale(1,1.07)" font-size="8.0" text-anchor="start" fill="#222" >UKB</text>
<line x1="218.8" y1="360.9" x2="234" y2="360.9" stroke="#b0b0b0" stroke-width="0.9" />
<circle cx="226.9" cy="360.9" r="2" fill="#b0b0b0"/>
<text transform="translate(237.5,363.74) scale(1,1.07)" font-size="8.0" text-anchor="start" fill="#222" >AoU</text>
<text x="280.2" y="233.3" font-size="9.6" font-weight="bold" fill="#000" style="stroke:#000;stroke-width:0.35px">c</text>
<line x1="311.4" y1="247.5" x2="311.4" y2="371.85" stroke="#6b6b6b" stroke-width="0.9" />
<line x1="310.95" y1="371.4" x2="398.1" y2="371.4" stroke="#6b6b6b" stroke-width="0.9" />
<line x1="307.6" y1="251.3" x2="311.4" y2="251.3" stroke="#6b6b6b" stroke-width="0.8" />
<text transform="translate(303.6,254.34) scale(1,1.07)" font-size="8.0" text-anchor="end" fill="#222" >1.2</text>
<line x1="307.6" y1="280.3" x2="311.4" y2="280.3" stroke="#6b6b6b" stroke-width="0.8" />
<text transform="translate(303.6,283.34) scale(1,1.07)" font-size="8.0" text-anchor="end" fill="#222" >1.0</text>
<line x1="307.6" y1="309.3" x2="311.4" y2="309.3" stroke="#6b6b6b" stroke-width="0.8" />
<text transform="translate(303.6,312.34) scale(1,1.07)" font-size="8.0" text-anchor="end" fill="#222" >0.8</text>
<line x1="307.6" y1="338.3" x2="311.4" y2="338.3" stroke="#6b6b6b" stroke-width="0.8" />
<text transform="translate(303.6,341.34) scale(1,1.07)" font-size="8.0" text-anchor="end" fill="#222" >0.6</text>
<line x1="307.6" y1="367.3" x2="311.4" y2="367.3" stroke="#6b6b6b" stroke-width="0.8" />
<text transform="translate(303.6,370.34) scale(1,1.07)" font-size="8.0" text-anchor="end" fill="#222" >0.4</text>
<line x1="327.8" y1="371.4" x2="327.8" y2="374.8" stroke="#8a8a8a" stroke-width="0.8" />
<text transform="translate(328.3,385.94) scale(1,1.07)" font-size="8.0" text-anchor="middle" fill="#222" >TT</text>
<line x1="355.3" y1="371.4" x2="355.3" y2="374.8" stroke="#8a8a8a" stroke-width="0.8" />
<text transform="translate(355.8,385.94) scale(1,1.07)" font-size="8.0" text-anchor="middle" fill="#222" >TA</text>
<line x1="382.8" y1="371.4" x2="382.8" y2="374.8" stroke="#8a8a8a" stroke-width="0.8" />
<text transform="translate(383.3,385.94) scale(1,1.07)" font-size="8.0" text-anchor="middle" fill="#222" >AA</text>
<polyline points="327.8,280.3 355.3,268.7 382.8,257.1" fill="none" stroke="#64c3b9" stroke-width="1.0" />
<line x1="327.8" y1="283.93" x2="327.8" y2="276.68" stroke="#64c3b9" stroke-width="0.9" />
<line x1="323.8" y1="283.93" x2="331.8" y2="283.93" stroke="#64c3b9" stroke-width="0.9" />
<line x1="323.8" y1="276.68" x2="331.8" y2="276.68" stroke="#64c3b9" stroke-width="0.9" />
<circle cx="327.8" cy="280.3" r="2.1" fill="#64c3b9"/>
<line x1="355.3" y1="270.88" x2="355.3" y2="266.53" stroke="#64c3b9" stroke-width="0.9" />
<line x1="351.3" y1="270.88" x2="359.3" y2="270.88" stroke="#64c3b9" stroke-width="0.9" />
<line x1="351.3" y1="266.53" x2="359.3" y2="266.53" stroke="#64c3b9" stroke-width="0.9" />
<circle cx="355.3" cy="268.7" r="2.1" fill="#64c3b9"/>
<line x1="382.8" y1="259.71" x2="382.8" y2="254.2" stroke="#64c3b9" stroke-width="0.9" />
<line x1="378.8" y1="259.71" x2="386.8" y2="259.71" stroke="#64c3b9" stroke-width="0.9" />
<line x1="378.8" y1="254.2" x2="386.8" y2="254.2" stroke="#64c3b9" stroke-width="0.9" />
<circle cx="382.8" cy="257.1" r="2.1" fill="#64c3b9"/>
<polyline points="327.8,329.6 355.3,315.1 382.8,297.7" fill="none" stroke="#5a50a5" stroke-width="1.0" />
<line x1="327.8" y1="331.77" x2="327.8" y2="327.43" stroke="#5a50a5" stroke-width="0.9" />
<line x1="323.8" y1="331.77" x2="331.8" y2="331.77" stroke="#5a50a5" stroke-width="0.9" />
<line x1="323.8" y1="327.43" x2="331.8" y2="327.43" stroke="#5a50a5" stroke-width="0.9" />
<circle cx="327.8" cy="329.6" r="2.1" fill="#5a50a5"/>
<line x1="355.3" y1="316.26" x2="355.3" y2="313.65" stroke="#5a50a5" stroke-width="0.9" />
<line x1="351.3" y1="316.26" x2="359.3" y2="316.26" stroke="#5a50a5" stroke-width="0.9" />
<line x1="351.3" y1="313.65" x2="359.3" y2="313.65" stroke="#5a50a5" stroke-width="0.9" />
<circle cx="355.3" cy="315.1" r="2.1" fill="#5a50a5"/>
<line x1="382.8" y1="300.6" x2="382.8" y2="294.8" stroke="#5a50a5" stroke-width="0.9" />
<line x1="378.8" y1="300.6" x2="386.8" y2="300.6" stroke="#5a50a5" stroke-width="0.9" />
<line x1="378.8" y1="294.8" x2="386.8" y2="294.8" stroke="#5a50a5" stroke-width="0.9" />
<circle cx="382.8" cy="297.7" r="2.1" fill="#5a50a5"/>
<polyline points="327.8,362.95 355.3,347 382.8,328.15" fill="none" stroke="#ef5a30" stroke-width="1.0" />
<line x1="327.8" y1="365.56" x2="327.8" y2="358.89" stroke="#ef5a30" stroke-width="0.9" />
<line x1="323.8" y1="365.56" x2="331.8" y2="365.56" stroke="#ef5a30" stroke-width="0.9" />
<line x1="323.8" y1="358.89" x2="331.8" y2="358.89" stroke="#ef5a30" stroke-width="0.9" />
<circle cx="327.8" cy="362.95" r="2.1" fill="#ef5a30"/>
<line x1="355.3" y1="348.45" x2="355.3" y2="345.26" stroke="#ef5a30" stroke-width="0.9" />
<line x1="351.3" y1="348.45" x2="359.3" y2="348.45" stroke="#ef5a30" stroke-width="0.9" />
<line x1="351.3" y1="345.26" x2="359.3" y2="345.26" stroke="#ef5a30" stroke-width="0.9" />
<circle cx="355.3" cy="347" r="2.1" fill="#ef5a30"/>
<line x1="382.8" y1="331.34" x2="382.8" y2="323.51" stroke="#ef5a30" stroke-width="0.9" />
<line x1="378.8" y1="331.34" x2="386.8" y2="331.34" stroke="#ef5a30" stroke-width="0.9" />
<line x1="378.8" y1="323.51" x2="386.8" y2="323.51" stroke="#ef5a30" stroke-width="0.9" />
<circle cx="382.8" cy="328.15" r="2.1" fill="#ef5a30"/>
<text transform="translate(318.8,283.44) scale(1,1.07)" font-size="8.0" text-anchor="middle" fill="#222" >1</text>
<text transform="translate(347.6,264.84) scale(1,1.07)" font-size="8.0" text-anchor="middle" fill="#222" >1.08</text>
<text transform="translate(371.2,254.74) scale(1,1.07)" font-size="8.0" text-anchor="middle" fill="#222" >1.16</text>
<text transform="translate(322.1,324.64) scale(1,1.07)" font-size="8.0" text-anchor="middle" fill="#222" >0.66</text>
<text transform="translate(350.3,309.94) scale(1,1.07)" font-size="8.0" text-anchor="middle" fill="#222" >0.76</text>
<text transform="translate(374.8,291.54) scale(1,1.07)" font-size="8.0" text-anchor="middle" fill="#222" >0.88</text>
<text transform="translate(324.3,356.84) scale(1,1.07)" font-size="8.0" text-anchor="middle" fill="#222" >0.43</text>
<text transform="translate(349.1,343.04) scale(1,1.07)" font-size="8.0" text-anchor="middle" fill="#222" >0.54</text>
<text transform="translate(377.9,322.14) scale(1,1.07)" font-size="8.0" text-anchor="middle" fill="#222" >0.67</text>
<text transform="translate(315,235.55) scale(1,1.07)" font-size="7.8" text-anchor="start" fill="#222" >HLA-A*02:01</text>
<text transform="translate(315,245.35) scale(1,1.07)" font-size="7.8" fill="#222">(<tspan font-style="italic">P</tspan> = 1.1 &#215; 10<tspan font-size="5" dy="-3">&#8722;6</tspan><tspan dy="3">)</tspan></text>
<text transform="translate(354.45,398) scale(1,1.07)" font-size="7.9" text-anchor="middle" fill="#222" >Genotype for rs2548225</text>
<text transform="translate(355.25,407.2) scale(1,1.07)" font-size="7.9" text-anchor="middle" fill="#222">(<tspan font-style="italic">ERAP2</tspan>)</text>
<line x1="428.9" y1="247.5" x2="428.9" y2="371.85" stroke="#6b6b6b" stroke-width="0.9" />
<line x1="428.45" y1="371.4" x2="516.2" y2="371.4" stroke="#6b6b6b" stroke-width="0.9" />
<line x1="425.1" y1="279.4" x2="428.9" y2="279.4" stroke="#6b6b6b" stroke-width="0.8" />
<text transform="translate(420.8,282.44) scale(1,1.07)" font-size="8.0" text-anchor="end" fill="#222" >2.0</text>
<line x1="425.1" y1="312.6" x2="428.9" y2="312.6" stroke="#6b6b6b" stroke-width="0.8" />
<text transform="translate(420.8,315.64) scale(1,1.07)" font-size="8.0" text-anchor="end" fill="#222" >1.6</text>
<line x1="425.1" y1="345.8" x2="428.9" y2="345.8" stroke="#6b6b6b" stroke-width="0.8" />
<text transform="translate(420.8,348.84) scale(1,1.07)" font-size="8.0" text-anchor="end" fill="#222" >1.2</text>
<line x1="445.2" y1="371.4" x2="445.2" y2="374.8" stroke="#8a8a8a" stroke-width="0.8" />
<text transform="translate(445.7,385.94) scale(1,1.07)" font-size="8.0" text-anchor="middle" fill="#222" >TT</text>
<line x1="472.6" y1="371.4" x2="472.6" y2="374.8" stroke="#8a8a8a" stroke-width="0.8" />
<text transform="translate(473.1,385.94) scale(1,1.07)" font-size="8.0" text-anchor="middle" fill="#222" >TA</text>
<line x1="499.8" y1="371.4" x2="499.8" y2="374.8" stroke="#8a8a8a" stroke-width="0.8" />
<text transform="translate(500.3,385.94) scale(1,1.07)" font-size="8.0" text-anchor="middle" fill="#222" >AA</text>
<polyline points="445.2,362.4 472.6,354.1 499.8,344.97" fill="none" stroke="#64c3b9" stroke-width="1.0" />
<line x1="445.2" y1="364.89" x2="445.2" y2="359.91" stroke="#64c3b9" stroke-width="0.9" />
<line x1="441.2" y1="364.89" x2="449.2" y2="364.89" stroke="#64c3b9" stroke-width="0.9" />
<line x1="441.2" y1="359.91" x2="449.2" y2="359.91" stroke="#64c3b9" stroke-width="0.9" />
<circle cx="445.2" cy="362.4" r="2.1" fill="#64c3b9"/>
<line x1="472.6" y1="354.93" x2="472.6" y2="353.27" stroke="#64c3b9" stroke-width="0.9" />
<line x1="468.6" y1="354.93" x2="476.6" y2="354.93" stroke="#64c3b9" stroke-width="0.9" />
<line x1="468.6" y1="353.27" x2="476.6" y2="353.27" stroke="#64c3b9" stroke-width="0.9" />
<circle cx="472.6" cy="354.1" r="2.1" fill="#64c3b9"/>
<line x1="499.8" y1="346.63" x2="499.8" y2="343.31" stroke="#64c3b9" stroke-width="0.9" />
<line x1="495.8" y1="346.63" x2="503.8" y2="346.63" stroke="#64c3b9" stroke-width="0.9" />
<line x1="495.8" y1="343.31" x2="503.8" y2="343.31" stroke="#64c3b9" stroke-width="0.9" />
<circle cx="499.8" cy="344.97" r="2.1" fill="#64c3b9"/>
<polyline points="445.2,359.91 472.6,339.16 499.8,313.43" fill="none" stroke="#5a50a5" stroke-width="1.0" />
<line x1="445.2" y1="363.23" x2="445.2" y2="355.76" stroke="#5a50a5" stroke-width="0.9" />
<line x1="441.2" y1="363.23" x2="449.2" y2="363.23" stroke="#5a50a5" stroke-width="0.9" />
<line x1="441.2" y1="355.76" x2="449.2" y2="355.76" stroke="#5a50a5" stroke-width="0.9" />
<circle cx="445.2" cy="359.91" r="2.1" fill="#5a50a5"/>
<line x1="472.6" y1="342.48" x2="472.6" y2="335.84" stroke="#5a50a5" stroke-width="0.9" />
<line x1="468.6" y1="342.48" x2="476.6" y2="342.48" stroke="#5a50a5" stroke-width="0.9" />
<line x1="468.6" y1="335.84" x2="476.6" y2="335.84" stroke="#5a50a5" stroke-width="0.9" />
<circle cx="472.6" cy="339.16" r="2.1" fill="#5a50a5"/>
<line x1="499.8" y1="319.24" x2="499.8" y2="307.62" stroke="#5a50a5" stroke-width="0.9" />
<line x1="495.8" y1="319.24" x2="503.8" y2="319.24" stroke="#5a50a5" stroke-width="0.9" />
<line x1="495.8" y1="307.62" x2="503.8" y2="307.62" stroke="#5a50a5" stroke-width="0.9" />
<circle cx="499.8" cy="313.43" r="2.1" fill="#5a50a5"/>
<polyline points="445.2,356.59 472.6,320.9 499.8,271.1" fill="none" stroke="#ef5a30" stroke-width="1.0" />
<line x1="445.2" y1="365.72" x2="445.2" y2="346.63" stroke="#ef5a30" stroke-width="0.9" />
<line x1="441.2" y1="365.72" x2="449.2" y2="365.72" stroke="#ef5a30" stroke-width="0.9" />
<line x1="441.2" y1="346.63" x2="449.2" y2="346.63" stroke="#ef5a30" stroke-width="0.9" />
<circle cx="445.2" cy="356.59" r="2.1" fill="#ef5a30"/>
<line x1="472.6" y1="328.37" x2="472.6" y2="313.43" stroke="#ef5a30" stroke-width="0.9" />
<line x1="468.6" y1="328.37" x2="476.6" y2="328.37" stroke="#ef5a30" stroke-width="0.9" />
<line x1="468.6" y1="313.43" x2="476.6" y2="313.43" stroke="#ef5a30" stroke-width="0.9" />
<circle cx="472.6" cy="320.9" r="2.1" fill="#ef5a30"/>
<line x1="499.8" y1="286.04" x2="499.8" y2="256.16" stroke="#ef5a30" stroke-width="0.9" />
<line x1="495.8" y1="286.04" x2="503.8" y2="286.04" stroke="#ef5a30" stroke-width="0.9" />
<line x1="495.8" y1="256.16" x2="503.8" y2="256.16" stroke="#ef5a30" stroke-width="0.9" />
<circle cx="499.8" cy="271.1" r="2.1" fill="#ef5a30"/>
<text transform="translate(490.4,270.14) scale(1,1.07)" font-size="8.0" text-anchor="middle" fill="#222" >2.1</text>
<text transform="translate(506.5,304.74) scale(1,1.07)" font-size="8.0" text-anchor="middle" fill="#222" >1.59</text>
<text transform="translate(506.5,340.54) scale(1,1.07)" font-size="8.0" text-anchor="middle" fill="#222" >1.21</text>
<text transform="translate(463.3,321.94) scale(1,1.07)" font-size="8.0" text-anchor="middle" fill="#222" >1.5</text>
<text transform="translate(476,349.14) scale(1,1.07)" font-size="8.0" text-anchor="middle" fill="#222" >1.28</text>
<text transform="translate(471.6,363.54) scale(1,1.07)" font-size="8.0" text-anchor="middle" fill="#222" >1.1</text>
<text transform="translate(440.3,344.14) scale(1,1.07)" font-size="8.0" text-anchor="middle" fill="#222" >1.07</text>
<text transform="translate(438.8,356.04) scale(1,1.07)" font-size="8.0" text-anchor="middle" fill="#222" >1.03</text>
<text transform="translate(436.5,367.74) scale(1,1.07)" font-size="8.0" text-anchor="middle" fill="#222" >1.0</text>
<text transform="translate(432.2,235.75) scale(1,1.07)" font-size="7.8" text-anchor="start" fill="#222" >HLA-B*40:01</text>
<text transform="translate(432.2,244.95) scale(1,1.07)" font-size="7.8" fill="#222">(<tspan font-style="italic">P</tspan> = 2.0 &#215; 10<tspan font-size="5" dy="-3">&#8722;6</tspan><tspan dy="3">)</tspan></text>
<text transform="translate(472.25,398) scale(1,1.07)" font-size="7.9" text-anchor="middle" fill="#222" >Genotype for rs2548225</text>
<text transform="translate(473.05,407.2) scale(1,1.07)" font-size="7.9" text-anchor="middle" fill="#222">(<tspan font-style="italic">ERAP2</tspan>)</text>
<line x1="549.5" y1="247.5" x2="549.5" y2="371.85" stroke="#6b6b6b" stroke-width="0.9" />
<line x1="549.05" y1="371.4" x2="636.4" y2="371.4" stroke="#6b6b6b" stroke-width="0.9" />
<line x1="545.7" y1="278.6" x2="549.5" y2="278.6" stroke="#6b6b6b" stroke-width="0.8" />
<text transform="translate(541.8,281.64) scale(1,1.07)" font-size="8.0" text-anchor="end" fill="#222" >1.1</text>
<line x1="545.7" y1="312.6" x2="549.5" y2="312.6" stroke="#6b6b6b" stroke-width="0.8" />
<text transform="translate(541.8,315.64) scale(1,1.07)" font-size="8.0" text-anchor="end" fill="#222" >0.9</text>
<line x1="545.7" y1="346.6" x2="549.5" y2="346.6" stroke="#6b6b6b" stroke-width="0.8" />
<text transform="translate(541.8,349.64) scale(1,1.07)" font-size="8.0" text-anchor="end" fill="#222" >0.7</text>
<line x1="565.2" y1="371.4" x2="565.2" y2="374.8" stroke="#8a8a8a" stroke-width="0.8" />
<text transform="translate(565.7,385.94) scale(1,1.07)" font-size="8.0" text-anchor="middle" fill="#222" >TT</text>
<line x1="592.7" y1="371.4" x2="592.7" y2="374.8" stroke="#8a8a8a" stroke-width="0.8" />
<text transform="translate(593.2,385.94) scale(1,1.07)" font-size="8.0" text-anchor="middle" fill="#222" >TA</text>
<line x1="620" y1="371.4" x2="620" y2="374.8" stroke="#8a8a8a" stroke-width="0.8" />
<text transform="translate(620.5,385.94) scale(1,1.07)" font-size="8.0" text-anchor="middle" fill="#222" >AA</text>
<polyline points="565.2,295.6 592.7,278.6 620,258.2" fill="none" stroke="#64c3b9" stroke-width="1.0" />
<line x1="565.2" y1="298.15" x2="565.2" y2="293.05" stroke="#64c3b9" stroke-width="0.9" />
<line x1="561.2" y1="298.15" x2="569.2" y2="298.15" stroke="#64c3b9" stroke-width="0.9" />
<line x1="561.2" y1="293.05" x2="569.2" y2="293.05" stroke="#64c3b9" stroke-width="0.9" />
<circle cx="565.2" cy="295.6" r="2.1" fill="#64c3b9"/>
<line x1="592.7" y1="279.79" x2="592.7" y2="277.41" stroke="#64c3b9" stroke-width="0.9" />
<line x1="588.7" y1="279.79" x2="596.7" y2="279.79" stroke="#64c3b9" stroke-width="0.9" />
<line x1="588.7" y1="277.41" x2="596.7" y2="277.41" stroke="#64c3b9" stroke-width="0.9" />
<circle cx="592.7" cy="278.6" r="2.1" fill="#64c3b9"/>
<line x1="620" y1="261.6" x2="620" y2="254.8" stroke="#64c3b9" stroke-width="0.9" />
<line x1="616" y1="261.6" x2="624" y2="261.6" stroke="#64c3b9" stroke-width="0.9" />
<line x1="616" y1="254.8" x2="624" y2="254.8" stroke="#64c3b9" stroke-width="0.9" />
<circle cx="620" cy="258.2" r="2.1" fill="#64c3b9"/>
<polyline points="565.2,327.9 592.7,299 620,265" fill="none" stroke="#5a50a5" stroke-width="1.0" />
<line x1="565.2" y1="336.4" x2="565.2" y2="321.1" stroke="#5a50a5" stroke-width="0.9" />
<line x1="561.2" y1="336.4" x2="569.2" y2="336.4" stroke="#5a50a5" stroke-width="0.9" />
<line x1="561.2" y1="321.1" x2="569.2" y2="321.1" stroke="#5a50a5" stroke-width="0.9" />
<circle cx="565.2" cy="327.9" r="2.1" fill="#5a50a5"/>
<line x1="592.7" y1="303.25" x2="592.7" y2="294.75" stroke="#5a50a5" stroke-width="0.9" />
<line x1="588.7" y1="303.25" x2="596.7" y2="303.25" stroke="#5a50a5" stroke-width="0.9" />
<line x1="588.7" y1="294.75" x2="596.7" y2="294.75" stroke="#5a50a5" stroke-width="0.9" />
<circle cx="592.7" cy="299" r="2.1" fill="#5a50a5"/>
<line x1="620" y1="273.5" x2="620" y2="256.5" stroke="#5a50a5" stroke-width="0.9" />
<line x1="616" y1="273.5" x2="624" y2="273.5" stroke="#5a50a5" stroke-width="0.9" />
<line x1="616" y1="256.5" x2="624" y2="256.5" stroke="#5a50a5" stroke-width="0.9" />
<circle cx="620" cy="265" r="2.1" fill="#5a50a5"/>
<polyline points="565.2,355.1 592.7,317.7 620,270.1" fill="none" stroke="#ef5a30" stroke-width="1.0" />
<line x1="565.2" y1="364.96" x2="565.2" y2="339.97" stroke="#ef5a30" stroke-width="0.9" />
<line x1="561.2" y1="364.96" x2="569.2" y2="364.96" stroke="#ef5a30" stroke-width="0.9" />
<line x1="561.2" y1="339.97" x2="569.2" y2="339.97" stroke="#ef5a30" stroke-width="0.9" />
<circle cx="565.2" cy="355.1" r="2.1" fill="#ef5a30"/>
<line x1="592.7" y1="325.69" x2="592.7" y2="309.54" stroke="#ef5a30" stroke-width="0.9" />
<line x1="588.7" y1="325.69" x2="596.7" y2="325.69" stroke="#ef5a30" stroke-width="0.9" />
<line x1="588.7" y1="309.54" x2="596.7" y2="309.54" stroke="#ef5a30" stroke-width="0.9" />
<circle cx="592.7" cy="317.7" r="2.1" fill="#ef5a30"/>
<line x1="620" y1="287.44" x2="620" y2="252.76" stroke="#ef5a30" stroke-width="0.9" />
<line x1="616" y1="287.44" x2="624" y2="287.44" stroke="#ef5a30" stroke-width="0.9" />
<line x1="616" y1="252.76" x2="624" y2="252.76" stroke="#ef5a30" stroke-width="0.9" />
<circle cx="620" cy="270.1" r="2.1" fill="#ef5a30"/>
<text transform="translate(560,290.84) scale(1,1.07)" font-size="8.0" text-anchor="middle" fill="#222" >1.0</text>
<text transform="translate(587.3,274.14) scale(1,1.07)" font-size="8.0" text-anchor="middle" fill="#222" >1.1</text>
<text transform="translate(579.6,300.84) scale(1,1.07)" font-size="8.0" text-anchor="middle" fill="#222" >0.98</text>
<text transform="translate(560.7,317.34) scale(1,1.07)" font-size="8.0" text-anchor="middle" fill="#222" >0.81</text>
<text transform="translate(604.1,321.34) scale(1,1.07)" font-size="8.0" text-anchor="middle" fill="#222" >0.87</text>
<text transform="translate(577.2,357.84) scale(1,1.07)" font-size="8.0" text-anchor="middle" fill="#222" >0.65</text>
<text transform="translate(632,256.24) scale(1,1.07)" font-size="8.0" text-anchor="middle" fill="#222" >1.22</text>
<text transform="translate(632,266.54) scale(1,1.07)" font-size="8.0" text-anchor="middle" fill="#222" >1.18</text>
<text transform="translate(632,276.04) scale(1,1.07)" font-size="8.0" text-anchor="middle" fill="#222" >1.15</text>
<text transform="translate(552.9,235.75) scale(1,1.07)" font-size="7.8" text-anchor="start" fill="#222" >HLA-B*15:01</text>
<text transform="translate(552.9,244.95) scale(1,1.07)" font-size="7.8" fill="#222">(<tspan font-style="italic">P</tspan> = 6.4 &#215; 10<tspan font-size="5" dy="-3">&#8722;3</tspan><tspan dy="3">)</tspan></text>
<text transform="translate(592.65,398) scale(1,1.07)" font-size="7.9" text-anchor="middle" fill="#222" >Genotype for rs2548225</text>
<text transform="translate(593.45,407.2) scale(1,1.07)" font-size="7.9" text-anchor="middle" fill="#222">(<tspan font-style="italic">ERAP2</tspan>)</text>
<text transform="translate(285.6,308.5) rotate(-90)" font-size="7.6" text-anchor="middle" fill="#222">Estimated odds ratio</text>
<text transform="translate(646,312.3) scale(1,1.07)" font-size="7.95" text-anchor="start" fill="#222" >HLA allele</text>
<text transform="translate(646,321.4) scale(1,1.07)" font-size="7.95" text-anchor="start" fill="#222" >count</text>
<line x1="647.2" y1="331.7" x2="660.4" y2="331.7" stroke="#64c3b9" stroke-width="1.3" />
<circle cx="653.7" cy="331.7" r="2" fill="#64c3b9"/>
<text transform="translate(664,334.72) scale(1,1.07)" font-size="7.95" text-anchor="start" fill="#222" >0</text>
<line x1="647.2" y1="346" x2="660.4" y2="346" stroke="#5a50a5" stroke-width="1.3" />
<circle cx="653.7" cy="346" r="2" fill="#5a50a5"/>
<text transform="translate(664,349.02) scale(1,1.07)" font-size="7.95" text-anchor="start" fill="#222" >1</text>
<line x1="647.2" y1="360.3" x2="660.4" y2="360.3" stroke="#ef5a30" stroke-width="1.3" />
<circle cx="653.7" cy="360.3" r="2" fill="#ef5a30"/>
<text transform="translate(664,363.32) scale(1,1.07)" font-size="7.95" text-anchor="start" fill="#222" >2</text>
<text x="0.2" y="427.8" font-size="9.6" font-weight="bold" fill="#000" style="stroke:#000;stroke-width:0.35px">d</text>
<line x1="121.5" y1="424.3" x2="121.5" y2="542.2" stroke="#c4c4c4" stroke-width="0.8" stroke-dasharray="1,1.3"/>
<line x1="40.8" y1="472.1" x2="222.5" y2="472.1" stroke="#c4c4c4" stroke-width="0.8" stroke-dasharray="1,1.3"/>
<line x1="93" y1="443.8" x2="105.2" y2="443.8" stroke="#ababab" stroke-width="0.8" />
<line x1="99" y1="439.3" x2="99" y2="449.2" stroke="#ababab" stroke-width="0.8" />
<line x1="49.4" y1="451.9" x2="67.4" y2="451.9" stroke="#ababab" stroke-width="0.8" />
<line x1="58" y1="438.4" x2="58" y2="462.7" stroke="#ababab" stroke-width="0.8" />
<line x1="103.9" y1="437.5" x2="103.9" y2="460.9" stroke="#ababab" stroke-width="0.8" />
<line x1="93.5" y1="458.5" x2="93.5" y2="465.2" stroke="#ababab" stroke-width="0.8" />
<line x1="54.5" y1="467.7" x2="61" y2="467.7" stroke="#ababab" stroke-width="0.8" />
<line x1="57.5" y1="463" x2="57.5" y2="473" stroke="#ababab" stroke-width="0.8" />
<line x1="67.5" y1="468.6" x2="73.8" y2="468.6" stroke="#ababab" stroke-width="0.8" />
<line x1="70.6" y1="464" x2="70.6" y2="473" stroke="#ababab" stroke-width="0.8" />
<line x1="79.2" y1="466.3" x2="89" y2="466.3" stroke="#ababab" stroke-width="0.8" />
<line x1="84.1" y1="459.1" x2="84.1" y2="473.5" stroke="#ababab" stroke-width="0.8" />
<line x1="103" y1="471.2" x2="111" y2="471.2" stroke="#ababab" stroke-width="0.8" />
<line x1="106.6" y1="465.5" x2="106.6" y2="478" stroke="#ababab" stroke-width="0.8" />
<line x1="72.8" y1="478.5" x2="72.8" y2="484" stroke="#ababab" stroke-width="0.8" />
<line x1="59.4" y1="501" x2="73.7" y2="501" stroke="#ababab" stroke-width="0.8" />
<line x1="66.5" y1="490.6" x2="66.5" y2="511.3" stroke="#ababab" stroke-width="0.8" />
<line x1="55.3" y1="527.5" x2="67.9" y2="527.5" stroke="#ababab" stroke-width="0.8" />
<line x1="61.6" y1="518.5" x2="61.6" y2="536.5" stroke="#ababab" stroke-width="0.8" />
<line x1="135.8" y1="438.4" x2="135.8" y2="446.5" stroke="#ababab" stroke-width="0.8" />
<line x1="158.2" y1="445.1" x2="165" y2="445.1" stroke="#ababab" stroke-width="0.8" />
<line x1="161.8" y1="439.3" x2="161.8" y2="450.6" stroke="#ababab" stroke-width="0.8" />
<line x1="204.2" y1="449.2" x2="214.5" y2="449.2" stroke="#ababab" stroke-width="0.8" />
<line x1="209.5" y1="441.6" x2="209.5" y2="456.8" stroke="#ababab" stroke-width="0.8" />
<line x1="134.9" y1="472.5" x2="134.9" y2="479.5" stroke="#ababab" stroke-width="0.8" />
<line x1="152.4" y1="471.5" x2="152.4" y2="480" stroke="#ababab" stroke-width="0.8" />
<line x1="150.6" y1="474.8" x2="160.5" y2="474.8" stroke="#ababab" stroke-width="0.8" />
<line x1="155.5" y1="467.6" x2="155.5" y2="482" stroke="#ababab" stroke-width="0.8" />
<line x1="188.4" y1="479.4" x2="202.4" y2="479.4" stroke="#ababab" stroke-width="0.8" />
<line x1="195.2" y1="469" x2="195.2" y2="490.2" stroke="#ababab" stroke-width="0.8" />
<line x1="168.6" y1="481.2" x2="168.6" y2="491" stroke="#ababab" stroke-width="0.8" />
<line x1="159.2" y1="496" x2="159.2" y2="502" stroke="#ababab" stroke-width="0.8" />
<line x1="169.1" y1="512.2" x2="169.1" y2="520.3" stroke="#ababab" stroke-width="0.8" />
<circle cx="70.1" cy="436.2" r="2" fill="#0a0a0a"/>
<circle cx="116" cy="431.6" r="2" fill="#0a0a0a"/>
<circle cx="98" cy="437.1" r="2" fill="#0a0a0a"/>
<circle cx="82.5" cy="444.3" r="2" fill="#0a0a0a"/>
<circle cx="99" cy="443.8" r="2" fill="#0a0a0a"/>
<circle cx="58" cy="451.9" r="2" fill="#0a0a0a"/>
<circle cx="103.9" cy="448.8" r="2" fill="#0a0a0a"/>
<circle cx="108.9" cy="450.1" r="2" fill="#0a0a0a"/>
<circle cx="96.7" cy="454.1" r="2" fill="#0a0a0a"/>
<circle cx="108.4" cy="457.7" r="2" fill="#0a0a0a"/>
<circle cx="58" cy="464" r="2" fill="#0a0a0a"/>
<circle cx="65.2" cy="464" r="2" fill="#0a0a0a"/>
<circle cx="93.5" cy="461.4" r="2" fill="#0a0a0a"/>
<circle cx="97.6" cy="464" r="2" fill="#0a0a0a"/>
<circle cx="101.2" cy="462.7" r="2" fill="#0a0a0a"/>
<circle cx="109.3" cy="461.8" r="2" fill="#0a0a0a"/>
<circle cx="57.5" cy="467.7" r="2" fill="#0a0a0a"/>
<circle cx="70.6" cy="468.6" r="2" fill="#0a0a0a"/>
<circle cx="66.5" cy="470.8" r="2" fill="#0a0a0a"/>
<circle cx="84.1" cy="466.3" r="2" fill="#0a0a0a"/>
<circle cx="111.5" cy="468.3" r="2" fill="#0a0a0a"/>
<circle cx="106.6" cy="471.2" r="2" fill="#0a0a0a"/>
<circle cx="74.2" cy="474" r="2" fill="#0a0a0a"/>
<circle cx="73.7" cy="476.4" r="2" fill="#0a0a0a"/>
<circle cx="72.8" cy="481.2" r="2" fill="#0a0a0a"/>
<circle cx="89.1" cy="477.1" r="2" fill="#0a0a0a"/>
<circle cx="127.8" cy="480.2" r="2" fill="#0a0a0a"/>
<circle cx="127.7" cy="485.6" r="2" fill="#0a0a0a"/>
<circle cx="107.1" cy="488.3" r="2" fill="#0a0a0a"/>
<circle cx="113.8" cy="491.7" r="2" fill="#0a0a0a"/>
<circle cx="120.6" cy="492.6" r="2" fill="#0a0a0a"/>
<circle cx="87.7" cy="494.2" r="2" fill="#0a0a0a"/>
<circle cx="66.5" cy="501" r="2" fill="#0a0a0a"/>
<circle cx="118.3" cy="508.6" r="2" fill="#0a0a0a"/>
<circle cx="93.6" cy="515.3" r="2" fill="#0a0a0a"/>
<circle cx="61.6" cy="527.5" r="2" fill="#0a0a0a"/>
<circle cx="135.8" cy="442.4" r="2" fill="#0a0a0a"/>
<circle cx="146.1" cy="441.6" r="2" fill="#0a0a0a"/>
<circle cx="161.8" cy="445.1" r="2" fill="#0a0a0a"/>
<circle cx="209.5" cy="449.2" r="2" fill="#0a0a0a"/>
<circle cx="137.6" cy="455" r="2" fill="#0a0a0a"/>
<circle cx="184.8" cy="458.7" r="2" fill="#0a0a0a"/>
<circle cx="161.8" cy="461.4" r="2" fill="#0a0a0a"/>
<circle cx="141.6" cy="464.5" r="2" fill="#0a0a0a"/>
<circle cx="136.2" cy="467.2" r="2" fill="#0a0a0a"/>
<circle cx="134.9" cy="476.2" r="2" fill="#0a0a0a"/>
<circle cx="152.4" cy="475.7" r="2" fill="#0a0a0a"/>
<circle cx="155.5" cy="474.8" r="2" fill="#0a0a0a"/>
<circle cx="131.7" cy="485.6" r="2" fill="#0a0a0a"/>
<circle cx="137.6" cy="485.2" r="2" fill="#0a0a0a"/>
<circle cx="195.2" cy="479.4" r="2" fill="#0a0a0a"/>
<circle cx="168.6" cy="485.7" r="2" fill="#0a0a0a"/>
<circle cx="159.2" cy="499.1" r="2" fill="#0a0a0a"/>
<circle cx="169.1" cy="516.2" r="2" fill="#0a0a0a"/>
<line x1="40.8" y1="424.3" x2="40.8" y2="542.65" stroke="#6b6b6b" stroke-width="0.9" />
<line x1="40.35" y1="542.2" x2="222.5" y2="542.2" stroke="#6b6b6b" stroke-width="0.9" />
<line x1="38.2" y1="425.9" x2="40.8" y2="425.9" stroke="#8a8a8a" stroke-width="0.8" />
<text transform="translate(34.3,429.24) scale(1,1.07)" font-size="8.0" text-anchor="end" fill="#222" >0.50</text>
<line x1="38.2" y1="449" x2="40.8" y2="449" stroke="#8a8a8a" stroke-width="0.8" />
<text transform="translate(34.3,452.34) scale(1,1.07)" font-size="8.0" text-anchor="end" fill="#222" >0.25</text>
<line x1="38.2" y1="472.1" x2="40.8" y2="472.1" stroke="#8a8a8a" stroke-width="0.8" />
<text transform="translate(34.3,475.44) scale(1,1.07)" font-size="8.0" text-anchor="end" fill="#222" >0</text>
<line x1="38.2" y1="495.2" x2="40.8" y2="495.2" stroke="#8a8a8a" stroke-width="0.8" />
<text transform="translate(34.3,498.54) scale(1,1.07)" font-size="8.0" text-anchor="end" fill="#222" >&#8722;0.25</text>
<line x1="38.2" y1="518.3" x2="40.8" y2="518.3" stroke="#8a8a8a" stroke-width="0.8" />
<text transform="translate(34.3,521.64) scale(1,1.07)" font-size="8.0" text-anchor="end" fill="#222" >&#8722;0.50</text>
<line x1="38.2" y1="541.4" x2="40.8" y2="541.4" stroke="#8a8a8a" stroke-width="0.8" />
<text transform="translate(34.3,544.74) scale(1,1.07)" font-size="8.0" text-anchor="end" fill="#222" >&#8722;0.75</text>
<line x1="41.9" y1="542.2" x2="41.9" y2="544.8" stroke="#8a8a8a" stroke-width="0.8" />
<text transform="translate(41.9,555.04) scale(1,1.07)" font-size="8.0" text-anchor="middle" fill="#222" >&#8722;1.0</text>
<line x1="81.7" y1="542.2" x2="81.7" y2="544.8" stroke="#8a8a8a" stroke-width="0.8" />
<text transform="translate(81.7,555.04) scale(1,1.07)" font-size="8.0" text-anchor="middle" fill="#222" >&#8722;0.5</text>
<line x1="121.5" y1="542.2" x2="121.5" y2="544.8" stroke="#8a8a8a" stroke-width="0.8" />
<text transform="translate(121.5,555.04) scale(1,1.07)" font-size="8.0" text-anchor="middle" fill="#222" >0</text>
<line x1="161.3" y1="542.2" x2="161.3" y2="544.8" stroke="#8a8a8a" stroke-width="0.8" />
<text transform="translate(161.3,555.04) scale(1,1.07)" font-size="8.0" text-anchor="middle" fill="#222" >0.5</text>
<line x1="201.1" y1="542.2" x2="201.1" y2="544.8" stroke="#8a8a8a" stroke-width="0.8" />
<text transform="translate(201.1,555.04) scale(1,1.07)" font-size="8.0" text-anchor="middle" fill="#222" >1.0</text>
<text transform="translate(123.4,568.34) scale(1,1.07)" font-size="8.0" text-anchor="middle" fill="#222" >Beta main</text>
<text transform="translate(7.1,482) rotate(-90) scale(1,1.07)" font-size="8.0" text-anchor="middle" fill="#222">Beta HHV7</text>
<text transform="translate(179,526.75) scale(1,1.07)" font-size="8.0" fill="#222"><tspan font-style="italic">&#961;</tspan> = &#8722;0.0215</text>
<text transform="translate(179.4,536.05) scale(1,1.07)" font-size="8.0" fill="#222"><tspan font-style="italic">P</tspan> = 0.877</text>
<line x1="164" y1="577.7" x2="164" y2="695.3" stroke="#c4c4c4" stroke-width="0.8" stroke-dasharray="1,1.3"/>
<line x1="40.9" y1="635.95" x2="222.5" y2="635.95" stroke="#c4c4c4" stroke-width="0.8" stroke-dasharray="1,1.3"/>
<line x1="49" y1="608.5" x2="75.3" y2="608.5" stroke="#ababab" stroke-width="0.8" />
<line x1="62" y1="583.3" x2="62" y2="634.8" stroke="#ababab" stroke-width="0.8" />
<line x1="102.3" y1="672.7" x2="119.8" y2="672.7" stroke="#ababab" stroke-width="0.8" />
<line x1="110.7" y1="655.8" x2="110.7" y2="689.1" stroke="#ababab" stroke-width="0.8" />
<line x1="126.1" y1="630" x2="136.9" y2="630" stroke="#ababab" stroke-width="0.8" />
<line x1="131.8" y1="619.2" x2="131.8" y2="640.7" stroke="#ababab" stroke-width="0.8" />
<line x1="144.1" y1="625" x2="144.1" y2="633" stroke="#ababab" stroke-width="0.8" />
<line x1="139.2" y1="630.5" x2="139.2" y2="644" stroke="#ababab" stroke-width="0.8" />
<line x1="141.5" y1="642.5" x2="141.5" y2="654" stroke="#ababab" stroke-width="0.8" />
<line x1="151.4" y1="632.5" x2="151.4" y2="640" stroke="#ababab" stroke-width="0.8" />
<line x1="149.6" y1="648" x2="149.6" y2="654.5" stroke="#ababab" stroke-width="0.8" />
<line x1="143.5" y1="669.3" x2="143.5" y2="680" stroke="#ababab" stroke-width="0.8" />
<line x1="175.2" y1="628" x2="175.2" y2="636" stroke="#ababab" stroke-width="0.8" />
<line x1="175.9" y1="633" x2="175.9" y2="640" stroke="#ababab" stroke-width="0.8" />
<line x1="182.1" y1="617.2" x2="182.1" y2="625.6" stroke="#ababab" stroke-width="0.8" />
<line x1="181.6" y1="642.5" x2="181.6" y2="650.5" stroke="#ababab" stroke-width="0.8" />
<line x1="190.5" y1="608" x2="196.6" y2="608" stroke="#ababab" stroke-width="0.8" />
<line x1="193.6" y1="601.1" x2="193.6" y2="614.9" stroke="#ababab" stroke-width="0.8" />
<line x1="199.2" y1="630.2" x2="199.2" y2="638.7" stroke="#ababab" stroke-width="0.8" />
<line x1="199" y1="643.3" x2="214.3" y2="643.3" stroke="#ababab" stroke-width="0.8" />
<line x1="206.6" y1="627.5" x2="206.6" y2="658.6" stroke="#ababab" stroke-width="0.8" />
<circle cx="62" cy="608.5" r="2" fill="#0a0a0a"/>
<circle cx="110.7" cy="672.7" r="2" fill="#0a0a0a"/>
<circle cx="131.8" cy="630" r="2" fill="#0a0a0a"/>
<circle cx="144.1" cy="628.7" r="2" fill="#0a0a0a"/>
<circle cx="139.2" cy="637.9" r="2" fill="#0a0a0a"/>
<circle cx="138.4" cy="642.2" r="2" fill="#0a0a0a"/>
<circle cx="141.5" cy="647.4" r="2" fill="#0a0a0a"/>
<circle cx="147.1" cy="638.7" r="2" fill="#0a0a0a"/>
<circle cx="149.1" cy="638.7" r="2" fill="#0a0a0a"/>
<circle cx="151.4" cy="636.4" r="2" fill="#0a0a0a"/>
<circle cx="149.6" cy="644.8" r="2" fill="#0a0a0a"/>
<circle cx="149.6" cy="651.1" r="2" fill="#0a0a0a"/>
<circle cx="143.5" cy="674.7" r="2" fill="#0a0a0a"/>
<circle cx="175.2" cy="631.8" r="2" fill="#0a0a0a"/>
<circle cx="177" cy="630.6" r="2" fill="#0a0a0a"/>
<circle cx="175.9" cy="636.4" r="2" fill="#0a0a0a"/>
<circle cx="177.9" cy="636.1" r="2" fill="#0a0a0a"/>
<circle cx="182.1" cy="622.9" r="2" fill="#0a0a0a"/>
<circle cx="180.9" cy="626.9" r="2" fill="#0a0a0a"/>
<circle cx="182.1" cy="630.6" r="2" fill="#0a0a0a"/>
<circle cx="182.1" cy="635.6" r="2" fill="#0a0a0a"/>
<circle cx="181.6" cy="646.7" r="2" fill="#0a0a0a"/>
<circle cx="193.6" cy="608" r="2" fill="#0a0a0a"/>
<circle cx="199.2" cy="634.5" r="2" fill="#0a0a0a"/>
<circle cx="206.6" cy="643.3" r="2" fill="#0a0a0a"/>
<line x1="40.9" y1="577.7" x2="40.9" y2="695.75" stroke="#6b6b6b" stroke-width="0.9" />
<line x1="40.45" y1="695.3" x2="222.5" y2="695.3" stroke="#6b6b6b" stroke-width="0.9" />
<line x1="38.3" y1="585.15" x2="40.9" y2="585.15" stroke="#8a8a8a" stroke-width="0.8" />
<text transform="translate(34.4,588.49) scale(1,1.07)" font-size="8.0" text-anchor="end" fill="#222" >0.10</text>
<line x1="38.3" y1="610.55" x2="40.9" y2="610.55" stroke="#8a8a8a" stroke-width="0.8" />
<text transform="translate(34.4,613.89) scale(1,1.07)" font-size="8.0" text-anchor="end" fill="#222" >0.05</text>
<line x1="38.3" y1="635.95" x2="40.9" y2="635.95" stroke="#8a8a8a" stroke-width="0.8" />
<text transform="translate(34.4,639.29) scale(1,1.07)" font-size="8.0" text-anchor="end" fill="#222" >0</text>
<line x1="38.3" y1="661.35" x2="40.9" y2="661.35" stroke="#8a8a8a" stroke-width="0.8" />
<text transform="translate(34.4,664.69) scale(1,1.07)" font-size="8.0" text-anchor="end" fill="#222" >&#8722;0.05</text>
<line x1="38.3" y1="686.75" x2="40.9" y2="686.75" stroke="#8a8a8a" stroke-width="0.8" />
<text transform="translate(34.4,690.09) scale(1,1.07)" font-size="8.0" text-anchor="end" fill="#222" >&#8722;0.10</text>
<line x1="66.65" y1="695.3" x2="66.65" y2="697.9" stroke="#8a8a8a" stroke-width="0.8" />
<text transform="translate(66.65,708.24) scale(1,1.07)" font-size="8.0" text-anchor="middle" fill="#222" >&#8722;0.3</text>
<line x1="99.1" y1="695.3" x2="99.1" y2="697.9" stroke="#8a8a8a" stroke-width="0.8" />
<text transform="translate(99.1,708.24) scale(1,1.07)" font-size="8.0" text-anchor="middle" fill="#222" >&#8722;0.2</text>
<line x1="131.55" y1="695.3" x2="131.55" y2="697.9" stroke="#8a8a8a" stroke-width="0.8" />
<text transform="translate(131.55,708.24) scale(1,1.07)" font-size="8.0" text-anchor="middle" fill="#222" >&#8722;0.1</text>
<line x1="164" y1="695.3" x2="164" y2="697.9" stroke="#8a8a8a" stroke-width="0.8" />
<text transform="translate(164,708.24) scale(1,1.07)" font-size="8.0" text-anchor="middle" fill="#222" >0</text>
<line x1="196.45" y1="695.3" x2="196.45" y2="697.9" stroke="#8a8a8a" stroke-width="0.8" />
<text transform="translate(196.45,708.24) scale(1,1.07)" font-size="8.0" text-anchor="middle" fill="#222" >0.1</text>
<text transform="translate(132.2,721.84) scale(1,1.07)" font-size="8.0" text-anchor="middle" fill="#222" >Beta main</text>
<text transform="translate(7.2,637.5) rotate(-90) scale(1,1.07)" font-size="8.0" text-anchor="middle" fill="#222">Beta HHV7</text>
<text transform="translate(178.7,679.05) scale(1,1.07)" font-size="8.0" fill="#222"><tspan font-style="italic">&#961;</tspan> = 0.302</text>
<text transform="translate(178.7,688.25) scale(1,1.07)" font-size="8.0" fill="#222"><tspan font-style="italic">P</tspan> = &#160;0.126</text>
<text x="233.5" y="427.6" font-size="9.6" font-weight="bold" fill="#000" style="stroke:#000;stroke-width:0.35px">e</text>
<line x1="351.5" y1="425.1" x2="351.5" y2="542.2" stroke="#c4c4c4" stroke-width="0.8" stroke-dasharray="1,1.3"/>
<line x1="268.6" y1="473.5" x2="454.7" y2="473.5" stroke="#c4c4c4" stroke-width="0.8" stroke-dasharray="1,1.3"/>
<line x1="277" y1="478.3" x2="295.7" y2="478.3" stroke="#ababab" stroke-width="0.8" />
<line x1="286.3" y1="454.6" x2="286.3" y2="501.3" stroke="#ababab" stroke-width="0.8" />
<line x1="308.2" y1="477.1" x2="318.2" y2="477.1" stroke="#ababab" stroke-width="0.8" />
<line x1="313.3" y1="467.6" x2="313.3" y2="486.6" stroke="#ababab" stroke-width="0.8" />
<line x1="338.6" y1="461.5" x2="338.6" y2="471" stroke="#ababab" stroke-width="0.8" />
<line x1="333.4" y1="467.6" x2="333.4" y2="497.9" stroke="#ababab" stroke-width="0.8" />
<line x1="323.5" y1="484.9" x2="331.5" y2="484.9" stroke="#ababab" stroke-width="0.8" />
<line x1="327.4" y1="476" x2="327.4" y2="492" stroke="#ababab" stroke-width="0.8" />
<line x1="322.5" y1="485" x2="322.5" y2="494.5" stroke="#ababab" stroke-width="0.8" />
<line x1="332" y1="490.1" x2="340" y2="490.1" stroke="#ababab" stroke-width="0.8" />
<line x1="335.8" y1="485.8" x2="335.8" y2="497.9" stroke="#ababab" stroke-width="0.8" />
<line x1="318.2" y1="499" x2="318.2" y2="506.5" stroke="#ababab" stroke-width="0.8" />
<line x1="294.3" y1="490.1" x2="294.3" y2="520.4" stroke="#ababab" stroke-width="0.8" />
<line x1="295.5" y1="505.3" x2="302" y2="505.3" stroke="#ababab" stroke-width="0.8" />
<line x1="298.3" y1="500.5" x2="298.3" y2="511" stroke="#ababab" stroke-width="0.8" />
<line x1="301.7" y1="501" x2="301.7" y2="510" stroke="#ababab" stroke-width="0.8" />
<line x1="294.8" y1="509" x2="294.8" y2="519.5" stroke="#ababab" stroke-width="0.8" />
<line x1="298.8" y1="501.3" x2="298.8" y2="523.8" stroke="#ababab" stroke-width="0.8" />
<line x1="303" y1="510" x2="303" y2="519.5" stroke="#ababab" stroke-width="0.8" />
<line x1="287" y1="518.7" x2="293" y2="518.7" stroke="#ababab" stroke-width="0.8" />
<line x1="289.8" y1="504" x2="289.8" y2="533.4" stroke="#ababab" stroke-width="0.8" />
<line x1="282.7" y1="522.5" x2="289.6" y2="522.5" stroke="#ababab" stroke-width="0.8" />
<line x1="286" y1="512" x2="286" y2="528" stroke="#ababab" stroke-width="0.8" />
<line x1="286" y1="512.6" x2="286" y2="536.8" stroke="#ababab" stroke-width="0.8" />
<line x1="365.8" y1="452.9" x2="365.8" y2="459" stroke="#ababab" stroke-width="0.8" />
<line x1="383.4" y1="464.2" x2="383.4" y2="471.1" stroke="#ababab" stroke-width="0.8" />
<line x1="381.4" y1="448.6" x2="390.9" y2="448.6" stroke="#ababab" stroke-width="0.8" />
<line x1="386" y1="442.2" x2="386" y2="454.6" stroke="#ababab" stroke-width="0.8" />
<line x1="399.6" y1="440.8" x2="399.6" y2="448.6" stroke="#ababab" stroke-width="0.8" />
<line x1="400.1" y1="451.2" x2="400.1" y2="457.2" stroke="#ababab" stroke-width="0.8" />
<line x1="419.8" y1="439" x2="434.2" y2="439" stroke="#ababab" stroke-width="0.8" />
<line x1="426.9" y1="430.4" x2="426.9" y2="447.7" stroke="#ababab" stroke-width="0.8" />
<line x1="436.8" y1="439.9" x2="446.3" y2="439.9" stroke="#ababab" stroke-width="0.8" />
<line x1="441.5" y1="434.7" x2="441.5" y2="445.1" stroke="#ababab" stroke-width="0.8" />
<circle cx="286.3" cy="478.3" r="2" fill="#0a0a0a"/>
<circle cx="313.3" cy="477.1" r="2" fill="#0a0a0a"/>
<circle cx="338.6" cy="466.4" r="2" fill="#0a0a0a"/>
<circle cx="350.2" cy="471.6" r="2" fill="#0a0a0a"/>
<circle cx="357.6" cy="475.4" r="2" fill="#0a0a0a"/>
<circle cx="358" cy="471.6" r="2" fill="#0a0a0a"/>
<circle cx="345.5" cy="476.8" r="2" fill="#0a0a0a"/>
<circle cx="348" cy="477.6" r="2" fill="#0a0a0a"/>
<circle cx="333.4" cy="479.7" r="2" fill="#0a0a0a"/>
<circle cx="336.9" cy="479.2" r="2" fill="#0a0a0a"/>
<circle cx="340.3" cy="482" r="2" fill="#0a0a0a"/>
<circle cx="338.1" cy="485.8" r="2" fill="#0a0a0a"/>
<circle cx="343.8" cy="485.8" r="2" fill="#0a0a0a"/>
<circle cx="327.4" cy="484.9" r="2" fill="#0a0a0a"/>
<circle cx="327.7" cy="486.6" r="2" fill="#0a0a0a"/>
<circle cx="322.5" cy="489.7" r="2" fill="#0a0a0a"/>
<circle cx="330.3" cy="491" r="2" fill="#0a0a0a"/>
<circle cx="335.8" cy="490.1" r="2" fill="#0a0a0a"/>
<circle cx="326" cy="495.6" r="2" fill="#0a0a0a"/>
<circle cx="311.3" cy="495.3" r="2" fill="#0a0a0a"/>
<circle cx="317" cy="499.6" r="2" fill="#0a0a0a"/>
<circle cx="318.2" cy="502.7" r="2" fill="#0a0a0a"/>
<circle cx="294.3" cy="506" r="2" fill="#0a0a0a"/>
<circle cx="298.3" cy="505.3" r="2" fill="#0a0a0a"/>
<circle cx="301.7" cy="506" r="2" fill="#0a0a0a"/>
<circle cx="302.6" cy="511.7" r="2" fill="#0a0a0a"/>
<circle cx="294.8" cy="513.5" r="2" fill="#0a0a0a"/>
<circle cx="298.8" cy="516.1" r="2" fill="#0a0a0a"/>
<circle cx="303" cy="514.8" r="2" fill="#0a0a0a"/>
<circle cx="289.8" cy="518.7" r="2" fill="#0a0a0a"/>
<circle cx="286" cy="522.5" r="2" fill="#0a0a0a"/>
<circle cx="286" cy="527" r="2" fill="#0a0a0a"/>
<circle cx="361.8" cy="469" r="2" fill="#0a0a0a"/>
<circle cx="364.9" cy="470.2" r="2" fill="#0a0a0a"/>
<circle cx="365.8" cy="468.5" r="2" fill="#0a0a0a"/>
<circle cx="367.5" cy="465.9" r="2" fill="#0a0a0a"/>
<circle cx="371.8" cy="465.9" r="2" fill="#0a0a0a"/>
<circle cx="365.8" cy="456.4" r="2" fill="#0a0a0a"/>
<circle cx="367.9" cy="460.4" r="2" fill="#0a0a0a"/>
<circle cx="376.2" cy="459.5" r="2" fill="#0a0a0a"/>
<circle cx="383.4" cy="467.6" r="2" fill="#0a0a0a"/>
<circle cx="386" cy="448.6" r="2" fill="#0a0a0a"/>
<circle cx="390.4" cy="453.8" r="2" fill="#0a0a0a"/>
<circle cx="392.1" cy="452" r="2" fill="#0a0a0a"/>
<circle cx="392.6" cy="456.4" r="2" fill="#0a0a0a"/>
<circle cx="399.6" cy="444.8" r="2" fill="#0a0a0a"/>
<circle cx="400.1" cy="454.3" r="2" fill="#0a0a0a"/>
<circle cx="416" cy="443" r="2" fill="#0a0a0a"/>
<circle cx="426.9" cy="439" r="2" fill="#0a0a0a"/>
<circle cx="441.5" cy="439.9" r="2" fill="#0a0a0a"/>
<line x1="268.6" y1="425.1" x2="268.6" y2="542.65" stroke="#6b6b6b" stroke-width="0.9" />
<line x1="268.15" y1="542.2" x2="454.7" y2="542.2" stroke="#6b6b6b" stroke-width="0.9" />
<line x1="266" y1="441.9" x2="268.6" y2="441.9" stroke="#8a8a8a" stroke-width="0.8" />
<text transform="translate(262.1,445.24) scale(1,1.07)" font-size="8.0" text-anchor="end" fill="#222" >0.5</text>
<line x1="266" y1="473.5" x2="268.6" y2="473.5" stroke="#8a8a8a" stroke-width="0.8" />
<text transform="translate(262.1,476.84) scale(1,1.07)" font-size="8.0" text-anchor="end" fill="#222" >0</text>
<line x1="266" y1="505.1" x2="268.6" y2="505.1" stroke="#8a8a8a" stroke-width="0.8" />
<text transform="translate(262.1,508.44) scale(1,1.07)" font-size="8.0" text-anchor="end" fill="#222" >&#8722;0.5</text>
<line x1="266" y1="536.7" x2="268.6" y2="536.7" stroke="#8a8a8a" stroke-width="0.8" />
<text transform="translate(262.1,540.04) scale(1,1.07)" font-size="8.0" text-anchor="end" fill="#222" >&#8722;1.0</text>
<line x1="270.2" y1="542.2" x2="270.2" y2="544.8" stroke="#8a8a8a" stroke-width="0.8" />
<text transform="translate(270.2,555.04) scale(1,1.07)" font-size="8.0" text-anchor="middle" fill="#222" >&#8722;1.0</text>
<line x1="310.85" y1="542.2" x2="310.85" y2="544.8" stroke="#8a8a8a" stroke-width="0.8" />
<text transform="translate(310.85,555.04) scale(1,1.07)" font-size="8.0" text-anchor="middle" fill="#222" >&#8722;0.5</text>
<line x1="351.5" y1="542.2" x2="351.5" y2="544.8" stroke="#8a8a8a" stroke-width="0.8" />
<text transform="translate(351.5,555.04) scale(1,1.07)" font-size="8.0" text-anchor="middle" fill="#222" >0</text>
<line x1="392.15" y1="542.2" x2="392.15" y2="544.8" stroke="#8a8a8a" stroke-width="0.8" />
<text transform="translate(392.15,555.04) scale(1,1.07)" font-size="8.0" text-anchor="middle" fill="#222" >0.5</text>
<line x1="432.8" y1="542.2" x2="432.8" y2="544.8" stroke="#8a8a8a" stroke-width="0.8" />
<text transform="translate(432.8,555.04) scale(1,1.07)" font-size="8.0" text-anchor="middle" fill="#222" >1.0</text>
<text transform="translate(361.5,568.34) scale(1,1.07)" font-size="8.0" text-anchor="middle" fill="#222" >Beta main</text>
<text transform="translate(240.3,482.1) rotate(-90) scale(1,1.07)" font-size="8.0" text-anchor="middle" fill="#222">Beta 1 versus &#8805;2</text>
<text transform="translate(396.6,526.65) scale(1,1.07)" font-size="8.0" fill="#222"><tspan font-style="italic">&#961;</tspan> = 0.9366</text>
<text transform="translate(396.9,535.45) scale(1,1.07)" font-size="8.0" fill="#222"><tspan font-size="5" dy="-3">a</tspan><tspan dy="3" font-style="italic">P</tspan> &lt; 2.2 &#215; 10<tspan font-size="5" dy="-3">&#8722;16</tspan></text>
<line x1="394.5" y1="578.4" x2="394.5" y2="695.3" stroke="#c4c4c4" stroke-width="0.8" stroke-dasharray="1,1.3"/>
<line x1="268.6" y1="627.4" x2="454.7" y2="627.4" stroke="#c4c4c4" stroke-width="0.8" stroke-dasharray="1,1.3"/>
<line x1="277" y1="659.3" x2="303.9" y2="659.3" stroke="#ababab" stroke-width="0.8" />
<line x1="290.4" y1="632.8" x2="290.4" y2="685.8" stroke="#ababab" stroke-width="0.8" />
<line x1="331.8" y1="670.7" x2="348" y2="670.7" stroke="#ababab" stroke-width="0.8" />
<line x1="340.1" y1="652.3" x2="340.1" y2="689.2" stroke="#ababab" stroke-width="0.8" />
<line x1="356.1" y1="652.3" x2="367.2" y2="652.3" stroke="#ababab" stroke-width="0.8" />
<line x1="361.7" y1="640.1" x2="361.7" y2="664.4" stroke="#ababab" stroke-width="0.8" />
<line x1="369.4" y1="642.8" x2="369.4" y2="658.8" stroke="#ababab" stroke-width="0.8" />
<line x1="371.6" y1="627" x2="371.6" y2="638.4" stroke="#ababab" stroke-width="0.8" />
<line x1="377" y1="637" x2="377" y2="646" stroke="#ababab" stroke-width="0.8" />
<line x1="379.9" y1="639" x2="379.9" y2="647.5" stroke="#ababab" stroke-width="0.8" />
<line x1="381.4" y1="625" x2="381.4" y2="633" stroke="#ababab" stroke-width="0.8" />
<line x1="405.9" y1="609.7" x2="405.9" y2="619" stroke="#ababab" stroke-width="0.8" />
<line x1="407.2" y1="613" x2="407.2" y2="623.5" stroke="#ababab" stroke-width="0.8" />
<line x1="408.4" y1="615.5" x2="408.4" y2="624" stroke="#ababab" stroke-width="0.8" />
<line x1="412.8" y1="612" x2="412.8" y2="621" stroke="#ababab" stroke-width="0.8" />
<line x1="412.8" y1="599" x2="412.8" y2="607" stroke="#ababab" stroke-width="0.8" />
<line x1="407.7" y1="611" x2="407.7" y2="620.5" stroke="#ababab" stroke-width="0.8" />
<line x1="411" y1="614" x2="411" y2="622.5" stroke="#ababab" stroke-width="0.8" />
<line x1="421.8" y1="594.6" x2="427.8" y2="594.6" stroke="#ababab" stroke-width="0.8" />
<line x1="424.7" y1="586.6" x2="424.7" y2="602.6" stroke="#ababab" stroke-width="0.8" />
<line x1="431" y1="583" x2="431" y2="592.8" stroke="#ababab" stroke-width="0.8" />
<line x1="430" y1="626.4" x2="446.6" y2="626.4" stroke="#ababab" stroke-width="0.8" />
<line x1="438.3" y1="607.4" x2="438.3" y2="645" stroke="#ababab" stroke-width="0.8" />
<circle cx="290.4" cy="659.3" r="2" fill="#0a0a0a"/>
<circle cx="340.1" cy="670.7" r="2" fill="#0a0a0a"/>
<circle cx="361.7" cy="652.3" r="2" fill="#0a0a0a"/>
<circle cx="368.7" cy="646.9" r="2" fill="#0a0a0a"/>
<circle cx="369.4" cy="650.8" r="2" fill="#0a0a0a"/>
<circle cx="371.6" cy="634.7" r="2" fill="#0a0a0a"/>
<circle cx="373.6" cy="641" r="2" fill="#0a0a0a"/>
<circle cx="377" cy="641" r="2" fill="#0a0a0a"/>
<circle cx="379.9" cy="643.1" r="2" fill="#0a0a0a"/>
<circle cx="378.8" cy="638.4" r="2" fill="#0a0a0a"/>
<circle cx="379.9" cy="635.5" r="2" fill="#0a0a0a"/>
<circle cx="380.2" cy="632.3" r="2" fill="#0a0a0a"/>
<circle cx="381.4" cy="629.3" r="2" fill="#0a0a0a"/>
<circle cx="405.9" cy="614.6" r="2" fill="#0a0a0a"/>
<circle cx="407.2" cy="618.2" r="2" fill="#0a0a0a"/>
<circle cx="408.4" cy="619.4" r="2" fill="#0a0a0a"/>
<circle cx="412.8" cy="616.5" r="2" fill="#0a0a0a"/>
<circle cx="412.3" cy="615" r="2" fill="#0a0a0a"/>
<circle cx="412.8" cy="608.5" r="2" fill="#0a0a0a"/>
<circle cx="412.8" cy="604.4" r="2" fill="#0a0a0a"/>
<circle cx="407.7" cy="615.8" r="2" fill="#0a0a0a"/>
<circle cx="411" cy="618.6" r="2" fill="#0a0a0a"/>
<circle cx="413.2" cy="617.6" r="2" fill="#0a0a0a"/>
<circle cx="424.7" cy="594.6" r="2" fill="#0a0a0a"/>
<circle cx="431" cy="588.3" r="2" fill="#0a0a0a"/>
<circle cx="438.3" cy="626.4" r="2" fill="#0a0a0a"/>
<line x1="268.6" y1="578.4" x2="268.6" y2="695.75" stroke="#6b6b6b" stroke-width="0.9" />
<line x1="268.15" y1="695.3" x2="454.7" y2="695.3" stroke="#6b6b6b" stroke-width="0.9" />
<line x1="266" y1="588.5" x2="268.6" y2="588.5" stroke="#8a8a8a" stroke-width="0.8" />
<text transform="translate(262.1,591.84) scale(1,1.07)" font-size="8.0" text-anchor="end" fill="#222" >0.1</text>
<line x1="266" y1="627.4" x2="268.6" y2="627.4" stroke="#8a8a8a" stroke-width="0.8" />
<text transform="translate(262.1,630.74) scale(1,1.07)" font-size="8.0" text-anchor="end" fill="#222" >0</text>
<line x1="266" y1="666.3" x2="268.6" y2="666.3" stroke="#8a8a8a" stroke-width="0.8" />
<text transform="translate(262.1,669.64) scale(1,1.07)" font-size="8.0" text-anchor="end" fill="#222" >&#8722;0.1</text>
<line x1="294.6" y1="695.3" x2="294.6" y2="697.9" stroke="#8a8a8a" stroke-width="0.8" />
<text transform="translate(294.6,708.24) scale(1,1.07)" font-size="8.0" text-anchor="middle" fill="#222" >&#8722;0.3</text>
<line x1="327.9" y1="695.3" x2="327.9" y2="697.9" stroke="#8a8a8a" stroke-width="0.8" />
<text transform="translate(327.9,708.24) scale(1,1.07)" font-size="8.0" text-anchor="middle" fill="#222" >&#8722;0.2</text>
<line x1="361.2" y1="695.3" x2="361.2" y2="697.9" stroke="#8a8a8a" stroke-width="0.8" />
<text transform="translate(361.2,708.24) scale(1,1.07)" font-size="8.0" text-anchor="middle" fill="#222" >&#8722;0.1</text>
<line x1="394.5" y1="695.3" x2="394.5" y2="697.9" stroke="#8a8a8a" stroke-width="0.8" />
<text transform="translate(394.5,708.24) scale(1,1.07)" font-size="8.0" text-anchor="middle" fill="#222" >0</text>
<line x1="427.8" y1="695.3" x2="427.8" y2="697.9" stroke="#8a8a8a" stroke-width="0.8" />
<text transform="translate(427.8,708.24) scale(1,1.07)" font-size="8.0" text-anchor="middle" fill="#222" >0.1</text>
<text transform="translate(361.7,721.84) scale(1,1.07)" font-size="8.0" text-anchor="middle" fill="#222" >Beta main</text>
<text transform="translate(240.2,637.2) rotate(-90) scale(1,1.07)" font-size="8.0" text-anchor="middle" fill="#222">Beta 1 versus &#8805;2</text>
<text transform="translate(396.9,680.95) scale(1,1.07)" font-size="8.0" fill="#222"><tspan font-style="italic">&#961;</tspan> = 0.886</text>
<text transform="translate(396.9,689.75) scale(1,1.07)" font-size="8.0" fill="#222"><tspan font-style="italic">P</tspan> = 1.25 &#215; 10<tspan font-size="5" dy="-3">&#8722;6</tspan></text>
<text x="467" y="427.7" font-size="9.6" font-weight="bold" fill="#000" style="stroke:#000;stroke-width:0.35px">f</text>
<line x1="594.6" y1="425.8" x2="594.6" y2="542.2" stroke="#c4c4c4" stroke-width="0.8" stroke-dasharray="1,1.3"/>
<line x1="499.6" y1="484.2" x2="685" y2="484.2" stroke="#c4c4c4" stroke-width="0.8" stroke-dasharray="1,1.3"/>
<line x1="508.4" y1="503.5" x2="517.5" y2="503.5" stroke="#ababab" stroke-width="0.8" />
<line x1="513" y1="484.9" x2="513" y2="521.5" stroke="#ababab" stroke-width="0.8" />
<line x1="522.6" y1="503.9" x2="522.6" y2="524.8" stroke="#ababab" stroke-width="0.8" />
<line x1="523.9" y1="477.3" x2="523.9" y2="497.8" stroke="#ababab" stroke-width="0.8" />
<line x1="528.5" y1="503.9" x2="528.5" y2="519.9" stroke="#ababab" stroke-width="0.8" />
<line x1="532.5" y1="494" x2="532.5" y2="520.7" stroke="#ababab" stroke-width="0.8" />
<line x1="533.8" y1="475" x2="533.8" y2="496.3" stroke="#ababab" stroke-width="0.8" />
<line x1="534.3" y1="494" x2="534.3" y2="512.3" stroke="#ababab" stroke-width="0.8" />
<line x1="544.5" y1="500.9" x2="544.5" y2="514.6" stroke="#ababab" stroke-width="0.8" />
<line x1="551.5" y1="502.9" x2="551.5" y2="515.7" stroke="#ababab" stroke-width="0.8" />
<line x1="553.4" y1="487.9" x2="553.4" y2="509.3" stroke="#ababab" stroke-width="0.8" />
<line x1="558.7" y1="503.2" x2="558.7" y2="524.5" stroke="#ababab" stroke-width="0.8" />
<line x1="555" y1="521" x2="562" y2="521" stroke="#ababab" stroke-width="0.8" />
<line x1="558.5" y1="516.9" x2="558.5" y2="536.7" stroke="#ababab" stroke-width="0.8" />
<line x1="562.5" y1="482.6" x2="562.5" y2="487.9" stroke="#ababab" stroke-width="0.8" />
<line x1="568.3" y1="473" x2="568.3" y2="487.6" stroke="#ababab" stroke-width="0.8" />
<line x1="576.2" y1="499.4" x2="576.2" y2="507.7" stroke="#ababab" stroke-width="0.8" />
<line x1="574.7" y1="455.9" x2="583.1" y2="455.9" stroke="#ababab" stroke-width="0.8" />
<line x1="578.7" y1="439.9" x2="578.7" y2="471.9" stroke="#ababab" stroke-width="0.8" />
<line x1="587.2" y1="462.8" x2="587.2" y2="477.3" stroke="#ababab" stroke-width="0.8" />
<line x1="584.8" y1="494" x2="584.8" y2="504.7" stroke="#ababab" stroke-width="0.8" />
<line x1="590.2" y1="484.1" x2="590.2" y2="497.1" stroke="#ababab" stroke-width="0.8" />
<line x1="593" y1="475.4" x2="593" y2="488.7" stroke="#ababab" stroke-width="0.8" />
<line x1="602.2" y1="450.5" x2="602.2" y2="457.6" stroke="#ababab" stroke-width="0.8" />
<line x1="611.3" y1="464" x2="611.3" y2="490.3" stroke="#ababab" stroke-width="0.8" />
<line x1="614.9" y1="485.5" x2="614.9" y2="495" stroke="#ababab" stroke-width="0.8" />
<line x1="619.7" y1="468" x2="619.7" y2="483.6" stroke="#ababab" stroke-width="0.8" />
<line x1="625.3" y1="453.3" x2="625.3" y2="467.2" stroke="#ababab" stroke-width="0.8" />
<line x1="642.3" y1="444.9" x2="642.3" y2="466.1" stroke="#ababab" stroke-width="0.8" />
<line x1="645.2" y1="454.5" x2="645.2" y2="473.6" stroke="#ababab" stroke-width="0.8" />
<line x1="651.1" y1="454.1" x2="658.6" y2="454.1" stroke="#ababab" stroke-width="0.8" />
<line x1="654.7" y1="439.3" x2="654.7" y2="468.3" stroke="#ababab" stroke-width="0.8" />
<line x1="640.7" y1="497.5" x2="649.5" y2="497.5" stroke="#ababab" stroke-width="0.8" />
<line x1="645" y1="480" x2="645" y2="514.5" stroke="#ababab" stroke-width="0.8" />
<line x1="650.3" y1="517.7" x2="658.6" y2="517.7" stroke="#ababab" stroke-width="0.8" />
<line x1="654.3" y1="500.2" x2="654.3" y2="534.9" stroke="#ababab" stroke-width="0.8" />
<line x1="674.6" y1="431.4" x2="674.6" y2="443.8" stroke="#ababab" stroke-width="0.8" />
<circle cx="513" cy="503.5" r="2" fill="#0a0a0a"/>
<circle cx="522.6" cy="514.3" r="2" fill="#0a0a0a"/>
<circle cx="523.9" cy="487.5" r="2" fill="#0a0a0a"/>
<circle cx="528.5" cy="511.6" r="2" fill="#0a0a0a"/>
<circle cx="532.5" cy="507.4" r="2" fill="#0a0a0a"/>
<circle cx="533.8" cy="487.9" r="2" fill="#0a0a0a"/>
<circle cx="534.3" cy="500.6" r="2" fill="#0a0a0a"/>
<circle cx="544.5" cy="507.7" r="2" fill="#0a0a0a"/>
<circle cx="551.5" cy="509" r="2" fill="#0a0a0a"/>
<circle cx="553.4" cy="500.1" r="2" fill="#0a0a0a"/>
<circle cx="558.7" cy="513.1" r="2" fill="#0a0a0a"/>
<circle cx="558.5" cy="521" r="2" fill="#0a0a0a"/>
<circle cx="562.5" cy="485.3" r="2" fill="#0a0a0a"/>
<circle cx="563.6" cy="498.3" r="2" fill="#0a0a0a"/>
<circle cx="564.3" cy="502.1" r="2" fill="#0a0a0a"/>
<circle cx="568.3" cy="480.3" r="2" fill="#0a0a0a"/>
<circle cx="576.2" cy="503.8" r="2" fill="#0a0a0a"/>
<circle cx="577.7" cy="512.6" r="2" fill="#0a0a0a"/>
<circle cx="578.7" cy="455.9" r="2" fill="#0a0a0a"/>
<circle cx="578.2" cy="481.8" r="2" fill="#0a0a0a"/>
<circle cx="581.4" cy="481.1" r="2" fill="#0a0a0a"/>
<circle cx="587.2" cy="470.4" r="2" fill="#0a0a0a"/>
<circle cx="584.8" cy="499.4" r="2" fill="#0a0a0a"/>
<circle cx="590.2" cy="490.7" r="2" fill="#0a0a0a"/>
<circle cx="593" cy="482.6" r="2" fill="#0a0a0a"/>
<circle cx="602.2" cy="454.1" r="2" fill="#0a0a0a"/>
<circle cx="607" cy="472.5" r="2" fill="#0a0a0a"/>
<circle cx="611.3" cy="479.6" r="2" fill="#0a0a0a"/>
<circle cx="612.4" cy="477.5" r="2" fill="#0a0a0a"/>
<circle cx="614.5" cy="475.6" r="2" fill="#0a0a0a"/>
<circle cx="613.2" cy="484.4" r="2" fill="#0a0a0a"/>
<circle cx="614.9" cy="489.5" r="2" fill="#0a0a0a"/>
<circle cx="619.7" cy="476" r="2" fill="#0a0a0a"/>
<circle cx="625.3" cy="460" r="2" fill="#0a0a0a"/>
<circle cx="642.3" cy="455.3" r="2" fill="#0a0a0a"/>
<circle cx="645.2" cy="464" r="2" fill="#0a0a0a"/>
<circle cx="654.7" cy="454.1" r="2" fill="#0a0a0a"/>
<circle cx="645" cy="497.5" r="2" fill="#0a0a0a"/>
<circle cx="654.3" cy="517.7" r="2" fill="#0a0a0a"/>
<circle cx="674.6" cy="437.4" r="2" fill="#0a0a0a"/>
<circle cx="587.1" cy="470.1" r="2" fill="#0a0a0a"/>
<line x1="499.6" y1="425.8" x2="499.6" y2="542.65" stroke="#6b6b6b" stroke-width="0.9" />
<line x1="499.15" y1="542.2" x2="685" y2="542.2" stroke="#6b6b6b" stroke-width="0.9" />
<line x1="497" y1="450.1" x2="499.6" y2="450.1" stroke="#8a8a8a" stroke-width="0.8" />
<text transform="translate(493.1,453.44) scale(1,1.07)" font-size="8.0" text-anchor="end" fill="#222" >0.2</text>
<line x1="497" y1="484.2" x2="499.6" y2="484.2" stroke="#8a8a8a" stroke-width="0.8" />
<text transform="translate(493.1,487.54) scale(1,1.07)" font-size="8.0" text-anchor="end" fill="#222" >0</text>
<line x1="497" y1="518.3" x2="499.6" y2="518.3" stroke="#8a8a8a" stroke-width="0.8" />
<text transform="translate(493.1,521.64) scale(1,1.07)" font-size="8.0" text-anchor="end" fill="#222" >&#8722;0.2</text>
<line x1="544.2" y1="542.2" x2="544.2" y2="544.8" stroke="#8a8a8a" stroke-width="0.8" />
<text transform="translate(544.2,555.04) scale(1,1.07)" font-size="8.0" text-anchor="middle" fill="#222" >&#8722;0.5</text>
<line x1="594.6" y1="542.2" x2="594.6" y2="544.8" stroke="#8a8a8a" stroke-width="0.8" />
<text transform="translate(594.6,555.04) scale(1,1.07)" font-size="8.0" text-anchor="middle" fill="#222" >0</text>
<line x1="645" y1="542.2" x2="645" y2="544.8" stroke="#8a8a8a" stroke-width="0.8" />
<text transform="translate(645,555.04) scale(1,1.07)" font-size="8.0" text-anchor="middle" fill="#222" >0.5</text>
<text transform="translate(595.4,568.34) scale(1,1.07)" font-size="8.0" text-anchor="middle" fill="#222" >Beta main</text>
<text transform="translate(474,482) rotate(-90) scale(1,1.07)" font-size="8.0" text-anchor="middle" fill="#222">Beta VCA-p18</text>
<text transform="translate(597.6,527.75) scale(1,1.07)" font-size="8.0" fill="#222"><tspan font-style="italic">&#961;</tspan> = 0.6375</text>
<text transform="translate(597.7,536.85) scale(1,1.07)" font-size="8.0" fill="#222"><tspan font-style="italic">P</tspan> = 1.55 &#215; 10<tspan font-size="5" dy="-3">&#8722;5</tspan></text>
<line x1="622.6" y1="578.4" x2="622.6" y2="695.3" stroke="#c4c4c4" stroke-width="0.8" stroke-dasharray="1,1.3"/>
<line x1="499.6" y1="621.8" x2="679.3" y2="621.8" stroke="#c4c4c4" stroke-width="0.8" stroke-dasharray="1,1.3"/>
<line x1="508" y1="636.2" x2="533.9" y2="636.2" stroke="#ababab" stroke-width="0.8" />
<line x1="521.2" y1="586.8" x2="521.2" y2="684.8" stroke="#ababab" stroke-width="0.8" />
<line x1="561" y1="654" x2="578" y2="654" stroke="#ababab" stroke-width="0.8" />
<line x1="569.5" y1="618" x2="569.5" y2="689.9" stroke="#ababab" stroke-width="0.8" />
<line x1="585" y1="652.5" x2="595.8" y2="652.5" stroke="#ababab" stroke-width="0.8" />
<line x1="590.6" y1="632" x2="590.6" y2="672.5" stroke="#ababab" stroke-width="0.8" />
<line x1="597" y1="611.9" x2="597" y2="627.5" stroke="#ababab" stroke-width="0.8" />
<line x1="594" y1="626.3" x2="601" y2="626.3" stroke="#ababab" stroke-width="0.8" />
<line x1="602" y1="597.3" x2="602" y2="617.2" stroke="#ababab" stroke-width="0.8" />
<line x1="602.8" y1="626" x2="602.8" y2="641.1" stroke="#ababab" stroke-width="0.8" />
<line x1="597" y1="643.2" x2="604" y2="643.2" stroke="#ababab" stroke-width="0.8" />
<line x1="600.1" y1="629.1" x2="600.1" y2="656.2" stroke="#ababab" stroke-width="0.8" />
<line x1="606.8" y1="607" x2="606.8" y2="626" stroke="#ababab" stroke-width="0.8" />
<line x1="608.4" y1="605" x2="608.4" y2="631" stroke="#ababab" stroke-width="0.8" />
<line x1="633.6" y1="612" x2="633.6" y2="629.5" stroke="#ababab" stroke-width="0.8" />
<line x1="635.2" y1="602" x2="635.2" y2="620" stroke="#ababab" stroke-width="0.8" />
<line x1="637.2" y1="612" x2="637.2" y2="627" stroke="#ababab" stroke-width="0.8" />
<line x1="640.4" y1="583.8" x2="640.4" y2="603.7" stroke="#ababab" stroke-width="0.8" />
<line x1="640.4" y1="621.2" x2="640.4" y2="635.5" stroke="#ababab" stroke-width="0.8" />
<line x1="652.2" y1="602.9" x2="652.2" y2="629.9" stroke="#ababab" stroke-width="0.8" />
<line x1="657.9" y1="594.9" x2="657.9" y2="611.6" stroke="#ababab" stroke-width="0.8" />
<line x1="657.5" y1="649.4" x2="672.9" y2="649.4" stroke="#ababab" stroke-width="0.8" />
<line x1="665.4" y1="616.7" x2="665.4" y2="682" stroke="#ababab" stroke-width="0.8" />
<circle cx="521.2" cy="636.2" r="2" fill="#0a0a0a"/>
<circle cx="569.5" cy="654" r="2" fill="#0a0a0a"/>
<circle cx="590.6" cy="652.5" r="2" fill="#0a0a0a"/>
<circle cx="597" cy="622.5" r="2" fill="#0a0a0a"/>
<circle cx="597.7" cy="626.3" r="2" fill="#0a0a0a"/>
<circle cx="602" cy="606.8" r="2" fill="#0a0a0a"/>
<circle cx="602.8" cy="633.6" r="2" fill="#0a0a0a"/>
<circle cx="600.1" cy="643.2" r="2" fill="#0a0a0a"/>
<circle cx="606.8" cy="612.9" r="2" fill="#0a0a0a"/>
<circle cx="608.4" cy="610" r="2" fill="#0a0a0a"/>
<circle cx="605.7" cy="619.6" r="2" fill="#0a0a0a"/>
<circle cx="608.1" cy="621.5" r="2" fill="#0a0a0a"/>
<circle cx="608.9" cy="623.6" r="2" fill="#0a0a0a"/>
<circle cx="610" cy="623.6" r="2" fill="#0a0a0a"/>
<circle cx="633.6" cy="621.2" r="2" fill="#0a0a0a"/>
<circle cx="634.4" cy="609.2" r="2" fill="#0a0a0a"/>
<circle cx="635.2" cy="607.6" r="2" fill="#0a0a0a"/>
<circle cx="636.3" cy="613.2" r="2" fill="#0a0a0a"/>
<circle cx="637.2" cy="617.2" r="2" fill="#0a0a0a"/>
<circle cx="639.5" cy="603.7" r="2" fill="#0a0a0a"/>
<circle cx="640.3" cy="609.2" r="2" fill="#0a0a0a"/>
<circle cx="640.4" cy="593.8" r="2" fill="#0a0a0a"/>
<circle cx="640.3" cy="626.3" r="2" fill="#0a0a0a"/>
<circle cx="640.4" cy="627.5" r="2" fill="#0a0a0a"/>
<circle cx="652.2" cy="616.1" r="2" fill="#0a0a0a"/>
<circle cx="657.9" cy="603.3" r="2" fill="#0a0a0a"/>
<circle cx="665.4" cy="649.4" r="2" fill="#0a0a0a"/>
<line x1="499.6" y1="578.4" x2="499.6" y2="695.75" stroke="#6b6b6b" stroke-width="0.9" />
<line x1="499.15" y1="695.3" x2="679.3" y2="695.3" stroke="#6b6b6b" stroke-width="0.9" />
<line x1="497" y1="595.3" x2="499.6" y2="595.3" stroke="#8a8a8a" stroke-width="0.8" />
<text transform="translate(493.1,598.64) scale(1,1.07)" font-size="8.0" text-anchor="end" fill="#222" >0.05</text>
<line x1="497" y1="621.8" x2="499.6" y2="621.8" stroke="#8a8a8a" stroke-width="0.8" />
<text transform="translate(493.1,625.14) scale(1,1.07)" font-size="8.0" text-anchor="end" fill="#222" >0</text>
<line x1="497" y1="648.3" x2="499.6" y2="648.3" stroke="#8a8a8a" stroke-width="0.8" />
<text transform="translate(493.1,651.64) scale(1,1.07)" font-size="8.0" text-anchor="end" fill="#222" >&#8722;0.05</text>
<line x1="497" y1="674.8" x2="499.6" y2="674.8" stroke="#8a8a8a" stroke-width="0.8" />
<text transform="translate(493.1,678.14) scale(1,1.07)" font-size="8.0" text-anchor="end" fill="#222" >&#8722;0.10</text>
<line x1="524.35" y1="695.3" x2="524.35" y2="697.9" stroke="#8a8a8a" stroke-width="0.8" />
<text transform="translate(524.35,708.24) scale(1,1.07)" font-size="8.0" text-anchor="middle" fill="#222" >&#8722;0.3</text>
<line x1="557.1" y1="695.3" x2="557.1" y2="697.9" stroke="#8a8a8a" stroke-width="0.8" />
<text transform="translate(557.1,708.24) scale(1,1.07)" font-size="8.0" text-anchor="middle" fill="#222" >&#8722;0.2</text>
<line x1="589.85" y1="695.3" x2="589.85" y2="697.9" stroke="#8a8a8a" stroke-width="0.8" />
<text transform="translate(589.85,708.24) scale(1,1.07)" font-size="8.0" text-anchor="middle" fill="#222" >&#8722;0.1</text>
<line x1="622.6" y1="695.3" x2="622.6" y2="697.9" stroke="#8a8a8a" stroke-width="0.8" />
<text transform="translate(622.6,708.24) scale(1,1.07)" font-size="8.0" text-anchor="middle" fill="#222" >0</text>
<line x1="655.35" y1="695.3" x2="655.35" y2="697.9" stroke="#8a8a8a" stroke-width="0.8" />
<text transform="translate(655.35,708.24) scale(1,1.07)" font-size="8.0" text-anchor="middle" fill="#222" >0.1</text>
<text transform="translate(592,721.84) scale(1,1.07)" font-size="8.0" text-anchor="middle" fill="#222" >Beta main</text>
<text transform="translate(468.1,637.4) rotate(-90) scale(1,1.07)" font-size="8.0" text-anchor="middle" fill="#222">Beta VCA-p18</text>
<text transform="translate(629.3,680.25) scale(1,1.07)" font-size="8.0" fill="#222"><tspan font-style="italic">&#961;</tspan> = 0.450</text>
<text transform="translate(630,689.05) scale(1,1.07)" font-size="8.0" fill="#222"><tspan font-style="italic">P</tspan> = 0.019</text>
</svg>
</body></html>
